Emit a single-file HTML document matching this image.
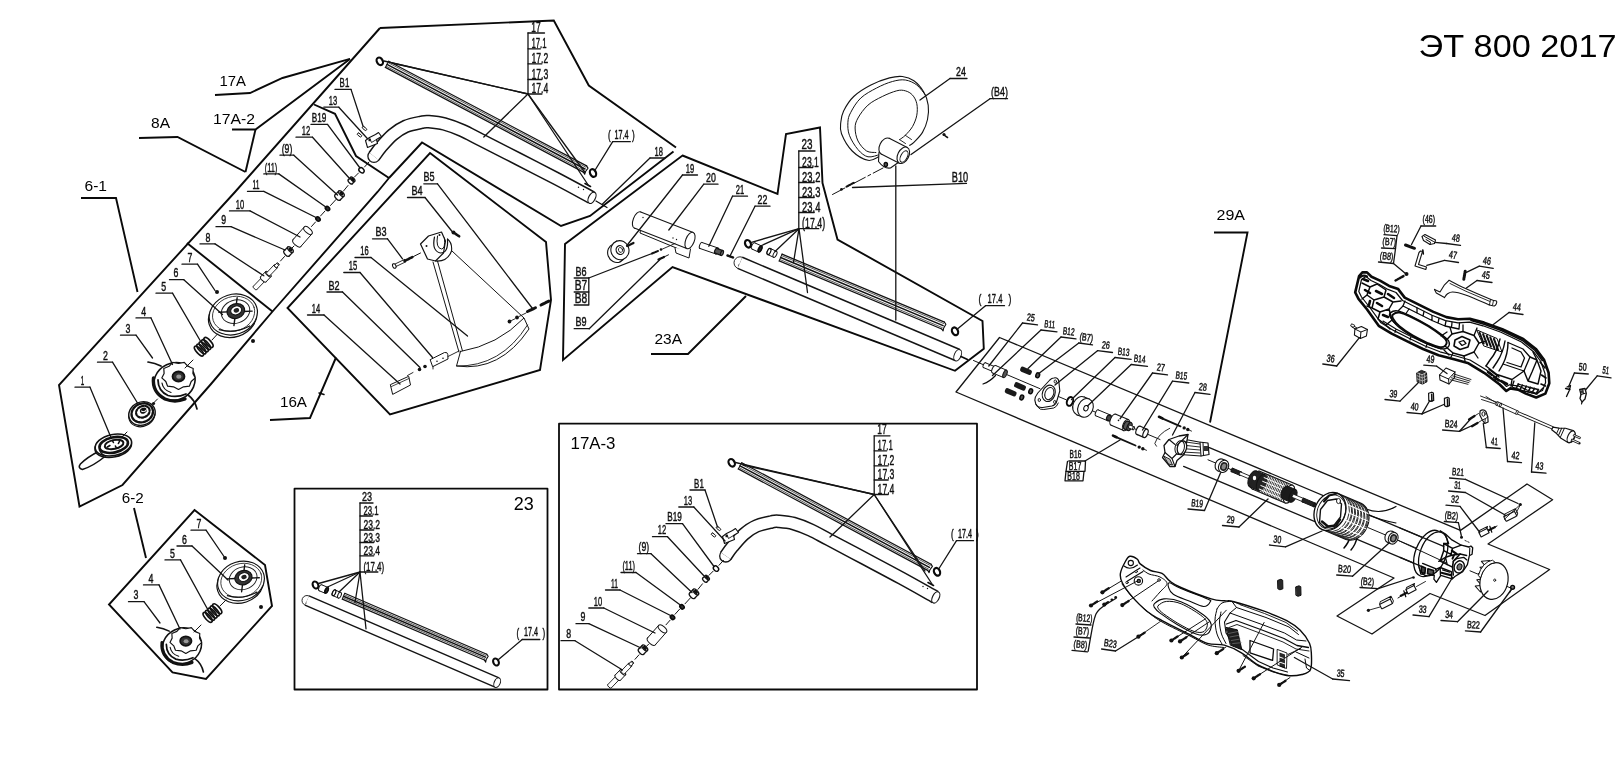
<!DOCTYPE html>
<html><head><meta charset="utf-8"><title>ET 800 2017</title>
<style>
html,body{margin:0;padding:0;background:#fff;}
body{width:1621px;height:767px;overflow:hidden;}
svg{display:block;font-family:"Liberation Sans",sans-serif;opacity:0.999;will-change:transform;filter:blur(0.45px);}
</style></head><body>
<svg width="1621" height="767" viewBox="0 0 1621 767">
<rect width="1621" height="767" fill="#fff"/>
<g stroke-linecap="round" stroke-linejoin="round">
<text x="1418.5" y="56.8" font-size="32.0" textLength="198.0" lengthAdjust="spacingAndGlyphs" fill="#000" font-weight="normal">ЭТ 800 2017</text>
<path d="M380.0 28.0 L235.0 192.0 L59.0 385.0 L79.5 506.5 L122.5 485.0 L211.0 384.0 L272.5 311.5 L377.5 192.0 L389.0 178.0" fill="none" stroke="#0a0a0a" stroke-width="1.90" stroke-linejoin="miter" stroke-linecap="butt"/>
<path d="M187.0 243.0 L272.5 311.5" fill="none" stroke="#0a0a0a" stroke-width="1.90" stroke-linejoin="miter" stroke-linecap="butt"/>
<path d="M314.0 104.5 L335.0 113.8 L356.0 156.0 L389.0 178.0" fill="none" stroke="#0a0a0a" stroke-width="1.90" stroke-linejoin="miter" stroke-linecap="butt"/>
<path d="M380.0 28.0 L553.8 20.5 L588.8 85.5 L676.0 147.5" fill="none" stroke="#0a0a0a" stroke-width="1.90" stroke-linejoin="miter" stroke-linecap="butt"/>
<path d="M673.5 151.5 L590.0 216.0 L561.0 226.0 L422.0 142.5 L389.0 178.0" fill="none" stroke="#0a0a0a" stroke-width="1.90" stroke-linejoin="miter" stroke-linecap="butt"/>
<path d="M430.0 153.0 L546.0 242.0 L551.0 300.0 L540.0 370.0 L390.0 414.5 L287.5 308.0 Z" fill="none" stroke="#0a0a0a" stroke-width="1.90" stroke-linejoin="miter" stroke-linecap="butt"/>
<path d="M682.5 155.5 L777.5 194.0 L786.0 134.0 L820.0 127.5 L822.5 183.0 L837.5 239.5 L982.5 321.0 L983.8 348.8 L955.0 370.8 L672.5 267.0 L563.0 360.0 L565.0 244.0 Z" fill="none" stroke="#0a0a0a" stroke-width="1.90" stroke-linejoin="miter" stroke-linecap="butt"/>
<path d="M215.0 95.0 L250.0 93.0 L282.5 78.0 L350.0 58.8" fill="none" stroke="#0a0a0a" stroke-width="1.90" stroke-linejoin="miter" stroke-linecap="butt"/>
<path d="M232.0 129.5 L255.5 129.5 L350.0 59.0" fill="none" stroke="#0a0a0a" stroke-width="1.90" stroke-linejoin="miter" stroke-linecap="butt"/>
<path d="M255.5 129.5 L245.5 172.0" fill="none" stroke="#0a0a0a" stroke-width="1.90" stroke-linejoin="miter" stroke-linecap="butt"/>
<path d="M139.0 138.0 L177.5 137.0 L245.5 172.0" fill="none" stroke="#0a0a0a" stroke-width="1.90" stroke-linejoin="miter" stroke-linecap="butt"/>
<path d="M81.0 198.0 L116.0 198.0 L137.5 292.0" fill="none" stroke="#0a0a0a" stroke-width="1.90" stroke-linejoin="miter" stroke-linecap="butt"/>
<path d="M134.0 508.0 L146.0 558.0" fill="none" stroke="#0a0a0a" stroke-width="1.90" stroke-linejoin="miter" stroke-linecap="butt"/>
<path d="M270.0 420.0 L310.0 418.0 L336.0 357.5" fill="none" stroke="#0a0a0a" stroke-width="1.90" stroke-linejoin="miter" stroke-linecap="butt"/>
<path d="M319.0 393.0 L324.0 394.5" fill="none" stroke="#0a0a0a" stroke-width="1.50" />
<path d="M651.0 354.0 L688.0 354.0 L746.0 296.0" fill="none" stroke="#0a0a0a" stroke-width="1.90" stroke-linejoin="miter" stroke-linecap="butt"/>
<path d="M1214.0 232.5 L1247.5 232.5 L1210.0 422.5" fill="none" stroke="#0a0a0a" stroke-width="1.90" stroke-linejoin="miter" stroke-linecap="butt"/>
<text x="219.5" y="86.0" font-size="15.4" textLength="26.5" lengthAdjust="spacingAndGlyphs" fill="#000" font-weight="normal">17A</text>
<text x="213.0" y="124.0" font-size="15.4" textLength="42.0" lengthAdjust="spacingAndGlyphs" fill="#000" font-weight="normal">17A-2</text>
<text x="151.0" y="128.0" font-size="15.4" textLength="19.0" lengthAdjust="spacingAndGlyphs" fill="#000" font-weight="normal">8A</text>
<text x="84.5" y="191.0" font-size="15.4" textLength="22.5" lengthAdjust="spacingAndGlyphs" fill="#000" font-weight="normal">6-1</text>
<text x="121.8" y="502.8" font-size="15.4" textLength="22.0" lengthAdjust="spacingAndGlyphs" fill="#000" font-weight="normal">6-2</text>
<text x="280.0" y="407.0" font-size="15.4" textLength="27.0" lengthAdjust="spacingAndGlyphs" fill="#000" font-weight="normal">16A</text>
<text x="654.5" y="344.0" font-size="15.4" textLength="27.5" lengthAdjust="spacingAndGlyphs" fill="#000" font-weight="normal">23A</text>
<text x="1216.5" y="220.0" font-size="15.4" textLength="28.5" lengthAdjust="spacingAndGlyphs" fill="#000" font-weight="normal">29A</text>
<text x="570.5" y="449.0" font-size="16.0" textLength="45.0" lengthAdjust="spacingAndGlyphs" fill="#000" font-weight="normal">17A-3</text>
<text x="513.8" y="509.5" font-size="17.5" textLength="20.0" lengthAdjust="spacingAndGlyphs" fill="#000" font-weight="normal">23</text>
<path d="M194.5 510.0 L265.0 565.0 L272.0 606.0 L206.0 679.0 L172.5 672.5 L109.0 604.5 Z" fill="none" stroke="#0a0a0a" stroke-width="1.90" stroke-linejoin="miter" stroke-linecap="butt"/>
<rect x="294.5" y="488.7" width="253" height="200.8" fill="none" stroke="#0a0a0a" stroke-width="1.8"/>
<rect x="559" y="423.7" width="418" height="265.8" fill="none" stroke="#0a0a0a" stroke-width="1.8"/>
<path d="M999.5 337.5 L956.0 392.0 L1394.0 578.0 L1337.0 616.0 L1372.0 634.0 L1430.0 593.5 L1485.0 615.5 L1549.6 569.5 L1488.0 544.0 L1552.6 499.7 L1527.0 484.0 L1460.5 530.4 Z" fill="none" stroke="#141414" stroke-width="1.30" />
<g transform="translate(233.3 314.5) scale(1.000) rotate(-18.0)">
<ellipse cx="-1.5" cy="2.2" rx="24.5" ry="20" fill="#fff" stroke="#111" stroke-width="1.2"/>
<ellipse cx="0" cy="0" rx="24.5" ry="20" fill="#fff" stroke="#111" stroke-width="1.2"/>
<ellipse cx="0.5" cy="-0.5" rx="21.5" ry="17.2" fill="none" stroke="#222" stroke-width="0.8"/>
<ellipse cx="3" cy="-2" rx="14.5" ry="11.5" fill="none" stroke="#222" stroke-width="1"/>
<line x1="10.5" y1="0.2" x2="19.0" y2="2.6" stroke="#111" stroke-width="1.4"/>
<line x1="0.3" y1="4.1" x2="-2.8" y2="10.7" stroke="#111" stroke-width="1.4"/>
<line x1="-4.5" y1="-4.2" x2="-13.0" y2="-6.6" stroke="#111" stroke-width="1.4"/>
<line x1="5.7" y1="-8.1" x2="8.8" y2="-14.7" stroke="#111" stroke-width="1.4"/>
<ellipse cx="3.5" cy="-2.5" rx="9" ry="7.3" fill="#333" stroke="#111" stroke-width="1.2"/>
<ellipse cx="4" cy="-3" rx="5.6" ry="4.4" fill="#fff" stroke="#111" stroke-width="1"/>
<ellipse cx="4.2" cy="-3" rx="2.8" ry="2.2" fill="#222"/>
<path d="M-18 10 Q-5 19 12 16" fill="none" stroke="#111" stroke-width="1.3"/>
</g>
<circle cx="217.0" cy="292.0" r="2.0" fill="#111"/>
<circle cx="253.0" cy="341.0" r="2.0" fill="#111"/>
<g transform="translate(203.8 346.7) scale(1.000) rotate(-42.0)">
<ellipse cx="-6.5" cy="0" rx="2.4" ry="6.2" fill="none" stroke="#111" stroke-width="1.7"/>
<ellipse cx="-3.3" cy="0" rx="2.4" ry="6.2" fill="none" stroke="#111" stroke-width="1.7"/>
<ellipse cx="-0.1" cy="0" rx="2.4" ry="6.2" fill="none" stroke="#111" stroke-width="1.7"/>
<ellipse cx="3.1" cy="0" rx="2.4" ry="6.2" fill="none" stroke="#111" stroke-width="1.7"/>
<ellipse cx="6.3" cy="0" rx="2.4" ry="6.2" fill="none" stroke="#111" stroke-width="1.7"/>
</g>
<g transform="translate(175.0 378.0) scale(1.000)">
<ellipse cx="-2" cy="3" rx="21" ry="18.5" transform="rotate(-25)" fill="#fff" stroke="#111" stroke-width="1.6"/>
<path d="M-21.5 0 Q-23 14 -10 21 Q0 25 10 21" fill="none" stroke="#111" stroke-width="3.4"/>
<path d="M-17 2 Q-17 13 -7 17.5 Q2 20 11 16" fill="none" stroke="#111" stroke-width="1.8"/>
<path d="M-13 5 Q-12 12 -4 14.5" fill="none" stroke="#111" stroke-width="1.2"/>
<path d="M18.2 -9.5 L17.9 -4.6 L20.2 -0.1 L16.2 3.5 L14.4 8.2 L8.5 8.8 L3.5 11.5 L-1.5 8.8 L-7.4 8.2 L-9.2 3.5 L-13.2 -0.1 L-10.9 -4.6 L-11.2 -9.5 L-5.9 -11.7 L-2.3 -15.7 L3.5 -14.5 L9.3 -15.7 L12.9 -11.7 Z" fill="#fff" stroke="#111" stroke-width="1.20" />
<ellipse cx="3.5" cy="-1.5" rx="6" ry="5" fill="#333" stroke="#111" stroke-width="1.8"/>
<ellipse cx="3.8" cy="-1.3" rx="2.6" ry="2.1" fill="#999"/>
<path d="M-14 -12 Q-20 -15 -27 -16" fill="none" stroke="#111" stroke-width="1.7"/>
<path d="M13 17 Q20 22 22 31" fill="none" stroke="#111" stroke-width="1.7"/>
</g>
<g transform="translate(142.0 413.5) rotate(-25)">
<ellipse cx="-0.8" cy="1.2" rx="13.5" ry="11.5" fill="#fff" stroke="#111" stroke-width="1.1"/>
<ellipse cx="0" cy="0" rx="13.5" ry="11.5" fill="#fff" stroke="#111" stroke-width="1.4"/>
<ellipse cx="0.5" cy="-0.5" rx="11" ry="9.2" fill="none" stroke="#111" stroke-width="2.4" stroke-dasharray="2.6 1.5"/>
<ellipse cx="1.5" cy="-1.2" rx="7" ry="5.6" fill="none" stroke="#111" stroke-width="2.2" stroke-dasharray="2.2 1.6"/>
<ellipse cx="2.5" cy="-2" rx="3.6" ry="2.9" fill="#111"/>
<path d="M0.5 -2.5 Q3 0.5 6 -1.5" fill="none" stroke="#fff" stroke-width="0.9"/>
</g>
<circle cx="153.5" cy="403.5" r="1.6" fill="#111"/>
<g transform="translate(113.4 445.0)">
<path d="M-14 6 Q-26 12 -33 19 Q-36 23 -31 24.5 Q-20 21 -8.5 11.5" fill="#fff" stroke="#111" stroke-width="1.5"/>
<ellipse cx="-0.5" cy="1.5" rx="18.5" ry="10.5" transform="rotate(-12)" fill="#fff" stroke="#111" stroke-width="1.6"/>
<ellipse cx="0" cy="0" rx="18.5" ry="10.5" transform="rotate(-12)" fill="#fff" stroke="#111" stroke-width="1.6"/>
<ellipse cx="0.3" cy="0" rx="14.5" ry="7.6" transform="rotate(-12)" fill="none" stroke="#111" stroke-width="2.6"/>
<ellipse cx="0.8" cy="-0.4" rx="9.5" ry="4.4" transform="rotate(-12)" fill="#fff" stroke="#111" stroke-width="2.0"/>
<path d="M-6 2 L-3.5 0.5 M-1 -4.5 L0 -2.5 M6 -3.5 L5 -1.5 M3 3 L2 1" stroke="#111" stroke-width="1.6" fill="none"/>
<path d="M-14 5 Q-12 9.5 -8 11" fill="none" stroke="#111" stroke-width="1.4"/>
</g>
<path d="M217.5 334.0 L212.0 340.0" fill="none" stroke="#141414" stroke-width="1.00" />
<path d="M193.0 360.0 L185.0 368.0" fill="none" stroke="#141414" stroke-width="1.00" />
<path d="M157.5 399.0 L153.5 403.0" fill="none" stroke="#141414" stroke-width="1.00" />
<path d="M127.0 432.0 L121.5 437.5" fill="none" stroke="#141414" stroke-width="1.00" />
<ellipse cx="255.0" cy="288.0" rx="1.0" ry="2.4" transform="rotate(-46.2 255.0 288.0)" fill="#fff" stroke="#141414" stroke-width="0.90"/>
<path d="M256.7 289.7 L266.4 279.6 L262.9 276.3 L253.3 286.3 Z" fill="#fff" stroke="none"/>
<path d="M256.7 289.7 L266.4 279.6" fill="none" stroke="#141414" stroke-width="0.90" />
<path d="M253.3 286.3 L262.9 276.3" fill="none" stroke="#141414" stroke-width="0.90" />
<ellipse cx="264.7" cy="277.9" rx="1.0" ry="2.4" transform="rotate(-46.2 264.7 277.9)" fill="#fff" stroke="#141414" stroke-width="0.90"/>
<ellipse cx="263.3" cy="279.4" rx="1.5" ry="3.7" transform="rotate(-46.2 263.3 279.4)" fill="#fff" stroke="#141414" stroke-width="1.00"/>
<path d="M266.0 281.9 L271.0 276.6 L265.7 271.5 L260.6 276.8 Z" fill="#fff" stroke="none"/>
<path d="M266.0 281.9 L271.0 276.6" fill="none" stroke="#141414" stroke-width="1.00" />
<path d="M260.6 276.8 L265.7 271.5" fill="none" stroke="#141414" stroke-width="1.00" />
<ellipse cx="268.3" cy="274.1" rx="1.5" ry="3.7" transform="rotate(-46.2 268.3 274.1)" fill="#fff" stroke="#141414" stroke-width="1.00"/>
<ellipse cx="268.3" cy="274.1" rx="0.9" ry="2.2" transform="rotate(-46.2 268.3 274.1)" fill="#fff" stroke="#141414" stroke-width="0.90"/>
<path d="M269.9 275.6 L277.3 267.9 L274.1 264.9 L266.8 272.6 Z" fill="#fff" stroke="none"/>
<path d="M269.9 275.6 L277.3 267.9" fill="none" stroke="#141414" stroke-width="0.90" />
<path d="M266.8 272.6 L274.1 264.9" fill="none" stroke="#141414" stroke-width="0.90" />
<ellipse cx="275.7" cy="266.4" rx="0.9" ry="2.2" transform="rotate(-46.2 275.7 266.4)" fill="#fff" stroke="#141414" stroke-width="0.90"/>
<ellipse cx="275.7" cy="266.4" rx="0.6" ry="1.5" transform="rotate(-46.2 275.7 266.4)" fill="#fff" stroke="#141414" stroke-width="0.90"/>
<path d="M276.8 267.4 L279.1 265.0 L276.9 263.0 L274.6 265.4 Z" fill="#fff" stroke="none"/>
<path d="M276.8 267.4 L279.1 265.0" fill="none" stroke="#141414" stroke-width="0.90" />
<path d="M274.6 265.4 L276.9 263.0" fill="none" stroke="#141414" stroke-width="0.90" />
<ellipse cx="278.0" cy="264.0" rx="0.6" ry="1.5" transform="rotate(-46.2 278.0 264.0)" fill="#fff" stroke="#141414" stroke-width="0.90"/>
<ellipse cx="286.6" cy="253.4" rx="1.8" ry="3.6" transform="rotate(-45.0 286.6 253.4)" fill="#fff" stroke="#141414" stroke-width="1.30"/>
<path d="M289.1 256.0 L293.0 252.1 L287.9 247.0 L284.0 250.9 Z" fill="#fff" stroke="none"/>
<path d="M289.1 256.0 L293.0 252.1" fill="none" stroke="#141414" stroke-width="1.30" />
<path d="M284.0 250.9 L287.9 247.0" fill="none" stroke="#141414" stroke-width="1.30" />
<ellipse cx="290.4" cy="249.6" rx="1.8" ry="3.6" transform="rotate(-45.0 290.4 249.6)" fill="#fff" stroke="#141414" stroke-width="1.30"/>
<ellipse cx="290.4" cy="249.6" rx="0.9" ry="1.8" transform="rotate(-45.0 290.4 249.6)" fill="#333" stroke="#0a0a0a" stroke-width="1.20"/>
<ellipse cx="297.0" cy="243.0" rx="2.6" ry="5.2" transform="rotate(-48.7 297.0 243.0)" fill="#fff" stroke="#141414" stroke-width="1.00"/>
<path d="M300.9 246.4 L311.9 233.9 L304.1 227.1 L293.1 239.6 Z" fill="#fff" stroke="none"/>
<path d="M300.9 246.4 L311.9 233.9" fill="none" stroke="#141414" stroke-width="1.00" />
<path d="M293.1 239.6 L304.1 227.1" fill="none" stroke="#141414" stroke-width="1.00" />
<ellipse cx="308.0" cy="230.5" rx="2.6" ry="5.2" transform="rotate(-48.7 308.0 230.5)" fill="#fff" stroke="#141414" stroke-width="1.00"/>
<ellipse cx="318.0" cy="219.0" rx="1.8" ry="2.4" transform="rotate(-45.0 318.0 219.0)" fill="#333" stroke="#0a0a0a" stroke-width="1.60"/>
<ellipse cx="327.5" cy="208.5" rx="1.8" ry="2.4" transform="rotate(-45.0 327.5 208.5)" fill="#333" stroke="#0a0a0a" stroke-width="1.60"/>
<ellipse cx="337.6" cy="197.4" rx="1.8" ry="3.6" transform="rotate(-45.0 337.6 197.4)" fill="#fff" stroke="#141414" stroke-width="1.30"/>
<path d="M340.1 200.0 L344.0 196.1 L338.9 191.0 L335.0 194.9 Z" fill="#fff" stroke="none"/>
<path d="M340.1 200.0 L344.0 196.1" fill="none" stroke="#141414" stroke-width="1.30" />
<path d="M335.0 194.9 L338.9 191.0" fill="none" stroke="#141414" stroke-width="1.30" />
<ellipse cx="341.4" cy="193.6" rx="1.8" ry="3.6" transform="rotate(-45.0 341.4 193.6)" fill="#fff" stroke="#141414" stroke-width="1.30"/>
<ellipse cx="341.4" cy="193.6" rx="0.9" ry="1.8" transform="rotate(-45.0 341.4 193.6)" fill="#333" stroke="#0a0a0a" stroke-width="1.20"/>
<ellipse cx="350.3" cy="181.7" rx="1.4" ry="2.8" transform="rotate(-45.0 350.3 181.7)" fill="#fff" stroke="#141414" stroke-width="1.30"/>
<path d="M352.2 183.7 L354.7 181.2 L350.8 177.3 L348.3 179.8 Z" fill="#fff" stroke="none"/>
<path d="M352.2 183.7 L354.7 181.2" fill="none" stroke="#141414" stroke-width="1.30" />
<path d="M348.3 179.8 L350.8 177.3" fill="none" stroke="#141414" stroke-width="1.30" />
<ellipse cx="352.7" cy="179.3" rx="1.4" ry="2.8" transform="rotate(-45.0 352.7 179.3)" fill="#fff" stroke="#141414" stroke-width="1.30"/>
<ellipse cx="352.7" cy="179.3" rx="0.7" ry="1.4" transform="rotate(-45.0 352.7 179.3)" fill="#333" stroke="#0a0a0a" stroke-width="1.20"/>
<ellipse cx="361.5" cy="170.3" rx="2.2" ry="3.0" transform="rotate(-45.0 361.5 170.3)" fill="none" stroke="#0a0a0a" stroke-width="1.40"/>
<path d="M280.5 261.0 L284.5 256.5" fill="none" stroke="#141414" stroke-width="1.00" />
<path d="M292.0 248.0 L294.0 246.0" fill="none" stroke="#141414" stroke-width="1.00" />
<path d="M311.5 226.5 L315.5 222.0" fill="none" stroke="#141414" stroke-width="1.00" />
<path d="M320.5 216.0 L325.0 211.0" fill="none" stroke="#141414" stroke-width="1.00" />
<path d="M330.5 205.5 L336.0 199.5" fill="none" stroke="#141414" stroke-width="1.00" />
<path d="M343.5 191.0 L348.0 185.5" fill="none" stroke="#141414" stroke-width="1.00" />
<path d="M354.5 177.0 L358.5 173.0" fill="none" stroke="#141414" stroke-width="1.00" />
<path d="M364.5 167.0 L369.0 162.0" fill="none" stroke="#141414" stroke-width="1.00" />
<text x="80.8" y="384.8" font-size="13.1" textLength="3.5" lengthAdjust="spacingAndGlyphs" fill="#111" stroke="#111" stroke-width="0.45">1</text>
<path d="M75.0 387.2 L90.0 387.2" fill="none" stroke="#141414" stroke-width="1.30" />
<path d="M90.0 387.2 L111.0 437.5" fill="none" stroke="#141414" stroke-width="1.30" />
<text x="103.1" y="359.8" font-size="13.1" textLength="4.9" lengthAdjust="spacingAndGlyphs" fill="#111" stroke="#111" stroke-width="0.45">2</text>
<path d="M97.5 362.2 L112.5 362.2" fill="none" stroke="#141414" stroke-width="1.30" />
<path d="M112.5 362.2 L137.5 403.0" fill="none" stroke="#141414" stroke-width="1.30" />
<text x="125.6" y="332.8" font-size="13.1" textLength="4.9" lengthAdjust="spacingAndGlyphs" fill="#111" stroke="#111" stroke-width="0.45">3</text>
<path d="M120.5 335.2 L136.0 335.2" fill="none" stroke="#141414" stroke-width="1.30" />
<path d="M136.0 335.2 L152.5 358.0" fill="none" stroke="#141414" stroke-width="1.30" />
<text x="141.3" y="315.5" font-size="13.1" textLength="4.9" lengthAdjust="spacingAndGlyphs" fill="#111" stroke="#111" stroke-width="0.45">4</text>
<path d="M136.0 317.9 L151.0 317.9" fill="none" stroke="#141414" stroke-width="1.30" />
<path d="M151.0 317.9 L172.5 364.5" fill="none" stroke="#141414" stroke-width="1.30" />
<text x="161.3" y="290.8" font-size="13.1" textLength="4.9" lengthAdjust="spacingAndGlyphs" fill="#111" stroke="#111" stroke-width="0.45">5</text>
<path d="M156.0 293.2 L172.5 293.2" fill="none" stroke="#141414" stroke-width="1.30" />
<path d="M172.5 293.2 L201.0 342.0" fill="none" stroke="#141414" stroke-width="1.30" />
<text x="173.6" y="277.3" font-size="13.1" textLength="4.9" lengthAdjust="spacingAndGlyphs" fill="#111" stroke="#111" stroke-width="0.45">6</text>
<path d="M169.5 279.7 L183.8 279.7" fill="none" stroke="#141414" stroke-width="1.30" />
<path d="M183.8 279.7 L222.5 314.5" fill="none" stroke="#141414" stroke-width="1.30" />
<text x="187.6" y="261.8" font-size="13.1" textLength="4.9" lengthAdjust="spacingAndGlyphs" fill="#111" stroke="#111" stroke-width="0.45">7</text>
<path d="M182.0 264.2 L197.5 264.2" fill="none" stroke="#141414" stroke-width="1.30" />
<path d="M197.5 264.2 L215.0 290.5" fill="none" stroke="#141414" stroke-width="1.30" />
<text x="205.6" y="241.5" font-size="13.1" textLength="4.9" lengthAdjust="spacingAndGlyphs" fill="#111" stroke="#111" stroke-width="0.45">8</text>
<path d="M200.0 243.9 L215.0 243.9" fill="none" stroke="#141414" stroke-width="1.30" />
<path d="M215.0 243.9 L263.8 275.8" fill="none" stroke="#141414" stroke-width="1.30" />
<text x="221.3" y="224.3" font-size="13.1" textLength="4.9" lengthAdjust="spacingAndGlyphs" fill="#111" stroke="#111" stroke-width="0.45">9</text>
<path d="M216.0 226.7 L231.0 226.7" fill="none" stroke="#141414" stroke-width="1.30" />
<path d="M231.0 226.7 L285.0 250.0" fill="none" stroke="#141414" stroke-width="1.30" />
<text x="235.8" y="208.5" font-size="13.1" textLength="8.4" lengthAdjust="spacingAndGlyphs" fill="#111" stroke="#111" stroke-width="0.45">10</text>
<path d="M229.5 210.9 L250.0 210.9" fill="none" stroke="#141414" stroke-width="1.30" />
<path d="M250.0 210.9 L300.0 237.0" fill="none" stroke="#141414" stroke-width="1.30" />
<text x="252.5" y="189.0" font-size="13.1" textLength="6.9" lengthAdjust="spacingAndGlyphs" fill="#111" stroke="#111" stroke-width="0.45">11</text>
<path d="M247.5 191.4 L263.8 191.4" fill="none" stroke="#141414" stroke-width="1.30" />
<path d="M263.8 191.4 L317.0 218.0" fill="none" stroke="#141414" stroke-width="1.30" />
<text x="264.7" y="171.5" font-size="13.1" textLength="12.6" lengthAdjust="spacingAndGlyphs" fill="#111" stroke="#111" stroke-width="0.45">(11)</text>
<path d="M263.8 173.9 L278.8 173.9" fill="none" stroke="#141414" stroke-width="1.30" />
<path d="M278.8 173.9 L326.5 207.5" fill="none" stroke="#141414" stroke-width="1.30" />
<text x="281.7" y="152.8" font-size="13.1" textLength="10.6" lengthAdjust="spacingAndGlyphs" fill="#111" stroke="#111" stroke-width="0.45">(9)</text>
<path d="M280.0 155.2 L293.8 155.2" fill="none" stroke="#141414" stroke-width="1.30" />
<path d="M293.8 155.2 L337.5 195.0" fill="none" stroke="#141414" stroke-width="1.30" />
<text x="301.8" y="134.8" font-size="13.1" textLength="8.4" lengthAdjust="spacingAndGlyphs" fill="#111" stroke="#111" stroke-width="0.45">12</text>
<path d="M296.0 137.2 L312.5 137.2" fill="none" stroke="#141414" stroke-width="1.30" />
<path d="M312.5 137.2 L350.0 179.0" fill="none" stroke="#141414" stroke-width="1.30" />
<text x="311.7" y="122.0" font-size="13.1" textLength="14.6" lengthAdjust="spacingAndGlyphs" fill="#111" stroke="#111" stroke-width="0.45">B19</text>
<path d="M311.0 124.4 L327.5 124.4" fill="none" stroke="#141414" stroke-width="1.30" />
<path d="M327.5 124.4 L360.0 168.0" fill="none" stroke="#141414" stroke-width="1.30" />
<text x="328.8" y="104.8" font-size="13.1" textLength="8.4" lengthAdjust="spacingAndGlyphs" fill="#111" stroke="#111" stroke-width="0.45">13</text>
<path d="M323.8 107.2 L338.8 107.2" fill="none" stroke="#141414" stroke-width="1.30" />
<path d="M338.8 107.2 L371.0 142.5" fill="none" stroke="#141414" stroke-width="1.30" />
<text x="339.6" y="87.0" font-size="13.1" textLength="9.7" lengthAdjust="spacingAndGlyphs" fill="#111" stroke="#111" stroke-width="0.45">B1</text>
<path d="M335.0 89.4 L351.0 89.4" fill="none" stroke="#141414" stroke-width="1.30" />
<path d="M351.0 89.4 L363.8 128.5" fill="none" stroke="#141414" stroke-width="1.30" />
<path d="M388.6 61.2 L586.6 165.9" fill="none" stroke="#111" stroke-width="1.25" />
<path d="M387.9 62.5 L585.9 167.2" fill="none" stroke="#333" stroke-width="0.80" />
<path d="M387.0 64.3 L585.0 169.0" fill="none" stroke="#111" stroke-width="1.50" />
<path d="M386.1 66.1 L584.1 170.8" fill="none" stroke="#333" stroke-width="0.80" />
<path d="M385.4 67.4 L583.4 172.1" fill="none" stroke="#111" stroke-width="1.25" />
<path d="M388.6 61.2 L385.4 67.4" fill="none" stroke="#141414" stroke-width="1.00" />
<path d="M586.6 165.9 L588.0 168.1 L585.4 171.7 L584.7 174.3 L583.4 172.1" fill="none" stroke="#0a0a0a" stroke-width="1.10" />
<ellipse cx="379.8" cy="61.3" rx="2.9" ry="4.0" transform="rotate(-30.0 379.8 61.3)" fill="none" stroke="#0a0a0a" stroke-width="2.20"/>
<circle cx="374" cy="156.3" r="6.1" fill="#fff" stroke="#141414" stroke-width="1.3"/>
<path d="M374.0 156.3 C375.2 154.8 377.9 150.6 381.0 147.0 C384.1 143.4 388.7 138.0 392.8 134.6 C396.9 131.2 400.9 128.5 405.7 126.4 C410.5 124.4 417.7 123.1 421.5 122.3 C425.3 121.5 424.9 121.4 428.7 121.7 C432.5 122.0 438.8 122.5 444.3 123.9 C449.9 125.4 455.9 127.7 462.0 130.4 C468.1 133.1 471.6 135.2 480.8 139.9 C490.0 144.6 504.7 152.0 517.3 158.5 C529.9 165.0 544.1 172.2 556.5 178.7 C568.9 185.2 585.7 194.4 591.5 197.5" fill="none" stroke="#141414" stroke-width="13.80" stroke-linecap="butt"/>
<path d="M374.0 156.3 C375.2 154.8 377.9 150.6 381.0 147.0 C384.1 143.4 388.7 138.0 392.8 134.6 C396.9 131.2 400.9 128.5 405.7 126.4 C410.5 124.4 417.7 123.1 421.5 122.3 C425.3 121.5 424.9 121.4 428.7 121.7 C432.5 122.0 438.8 122.5 444.3 123.9 C449.9 125.4 455.9 127.7 462.0 130.4 C468.1 133.1 471.6 135.2 480.8 139.9 C490.0 144.6 504.7 152.0 517.3 158.5 C529.9 165.0 544.1 172.2 556.5 178.7 C568.9 185.2 585.7 194.4 591.5 197.5" fill="none" stroke="#fff" stroke-width="10.80" stroke-linecap="butt"/>
<ellipse cx="592.0" cy="197.8" rx="3.3" ry="6.1" transform="rotate(27.0 592.0 197.8)" fill="#fff" stroke="#141414" stroke-width="1.20"/>
<circle cx="578.5" cy="187.3" r="0.7" fill="#111"/>
<circle cx="583.5" cy="189.5" r="0.7" fill="#111"/>
<path d="M596.0 201.0 L607.0 207.5" fill="none" stroke="#0a0a0a" stroke-width="1.20" />
<g transform="translate(372.5 141.5)">
<path d="M-5 6 L-7 -1 L-3 -4 L3 -7 L6 -9 L9 -5 L4 -2 L5 2 Z" fill="#fff" stroke="#111" stroke-width="1.1"/>
<path d="M-3 -4 L-1 1 L4 -2" fill="none" stroke="#111" stroke-width="0.9"/>
<rect x="-4" y="-2.5" width="2.2" height="2.2" fill="#111"/>
</g>
<rect x="362.0" y="127.4" width="5" height="2.2" rx="1" transform="rotate(38 364.5 128.5)" fill="#fff" stroke="#111" stroke-width="0.9"/>
<rect x="357.0" y="133.9" width="5" height="2.2" rx="1" transform="rotate(38 359.5 135.0)" fill="#fff" stroke="#111" stroke-width="0.9"/>
<ellipse cx="593.0" cy="173.0" rx="2.9" ry="4.0" transform="rotate(-25.0 593.0 173.0)" fill="none" stroke="#0a0a0a" stroke-width="2.20"/>
<path d="M585.0 183.5 L590.5 186.5" fill="none" stroke="#0a0a0a" stroke-width="1.60" />
<path d="M528.0 94.0 L384.0 61.0" fill="none" stroke="#141414" stroke-width="1.30" />
<path d="M528.0 94.0 L392.0 63.0" fill="none" stroke="#141414" stroke-width="1.30" />
<path d="M528.0 94.0 L483.8 137.0" fill="none" stroke="#141414" stroke-width="1.30" />
<path d="M528.0 94.0 L585.0 172.5" fill="none" stroke="#141414" stroke-width="1.30" />
<path d="M528.0 94.0 L588.5 185.5" fill="none" stroke="#141414" stroke-width="1.30" />
<text x="531.3" y="31.5" font-size="14.7" textLength="9.4" lengthAdjust="spacingAndGlyphs" fill="#111" stroke="#111" stroke-width="0.45">17</text>
<path d="M528.0 33.0 L544.5 33.0" fill="none" stroke="#141414" stroke-width="1.30" />
<text x="531.4" y="47.8" font-size="14.2" textLength="15.2" lengthAdjust="spacingAndGlyphs" fill="#111" stroke="#111" stroke-width="0.45">17.1</text>
<path d="M528.0 33.0 L528.0 48.8 L540.4 48.8" fill="none" stroke="#141414" stroke-width="1.30" />
<text x="531.4" y="62.8" font-size="14.2" textLength="16.8" lengthAdjust="spacingAndGlyphs" fill="#111" stroke="#111" stroke-width="0.45">17.2</text>
<path d="M528.0 48.8 L528.0 63.8 L541.9 63.8" fill="none" stroke="#141414" stroke-width="1.30" />
<text x="531.4" y="78.5" font-size="14.2" textLength="16.8" lengthAdjust="spacingAndGlyphs" fill="#111" stroke="#111" stroke-width="0.45">17.3</text>
<path d="M528.0 63.8 L528.0 79.5 L541.9 79.5" fill="none" stroke="#141414" stroke-width="1.30" />
<text x="531.4" y="93.0" font-size="14.2" textLength="16.8" lengthAdjust="spacingAndGlyphs" fill="#111" stroke="#111" stroke-width="0.45">17.4</text>
<path d="M528.0 79.5 L528.0 94.0 L541.9 94.0" fill="none" stroke="#141414" stroke-width="1.30" />
<text x="614.5" y="138.5" font-size="11.9" textLength="14.0" lengthAdjust="spacingAndGlyphs" fill="#111" stroke="#111" stroke-width="0.45">17.4</text>
<text x="608.1" y="138.7" font-size="12.5" textLength="2.7" lengthAdjust="spacingAndGlyphs" fill="#111" stroke="#111" stroke-width="0.45">(</text>
<text x="632.1" y="138.7" font-size="12.5" textLength="2.7" lengthAdjust="spacingAndGlyphs" fill="#111" stroke="#111" stroke-width="0.45">)</text>
<path d="M612.7 141.7 L630.3 141.7" fill="none" stroke="#141414" stroke-width="1.30" />
<path d="M612.7 141.7 L594.5 171.0" fill="none" stroke="#141414" stroke-width="1.30" />
<text x="654.6" y="155.6" font-size="13.1" textLength="8.4" lengthAdjust="spacingAndGlyphs" fill="#111" stroke="#111" stroke-width="0.45">18</text>
<path d="M650.0 158.0 L665.0 158.0" fill="none" stroke="#141414" stroke-width="1.30" />
<path d="M650.0 158.0 L602.5 204.0" fill="none" stroke="#141414" stroke-width="1.30" />
<path d="M433 262 L459 352 M437.5 261 L462.5 351" fill="none" stroke="#141414" stroke-width="1.00" />
<path d="M460.5 351.5 L456.5 366 Q500 372 529 329 L524 318 Q498 345 460.5 351.5 Z" fill="#fff" stroke="#141414" stroke-width="1.00" />
<path d="M456.5 366 Q501 367 527.5 325" fill="none" stroke="#141414" stroke-width="0.90" />
<path d="M452.0 251.0 L524.0 318.0" fill="none" stroke="#141414" stroke-width="1.00" />
<g transform="translate(437.5 249)">
<path d="M-17 -5 L-9 -13 L4 -17 L8 -8 L6 4 L-2 12 L-10 10 Z" fill="#fff" stroke="#111" stroke-width="1.2"/>
<path d="M-3 -12 Q-6 2 3 4 Q11 4 10 -10" fill="none" stroke="#111" stroke-width="1.2"/>
<path d="M0 -13 Q-2 -1 4 0 Q8 0 7 -11" fill="none" stroke="#111" stroke-width="1.0"/>
<path d="M-2 12 Q10 13 14 2 Q15 -6 10 -10" fill="none" stroke="#111" stroke-width="1.1"/>
<circle cx="-11" cy="-3" r="1" fill="#111"/><circle cx="2" cy="-14" r="1" fill="#111"/>
</g>
<ellipse cx="395.0" cy="265.5" rx="0.5" ry="1.3" transform="rotate(-25.6 395.0 265.5)" fill="#fff" stroke="#141414" stroke-width="0.90"/>
<path d="M395.6 266.7 L405.6 261.9 L404.4 259.5 L394.4 264.3 Z" fill="#fff" stroke="none"/>
<path d="M395.6 266.7 L405.6 261.9" fill="none" stroke="#141414" stroke-width="0.90" />
<path d="M394.4 264.3 L404.4 259.5" fill="none" stroke="#141414" stroke-width="0.90" />
<ellipse cx="405.0" cy="260.7" rx="0.5" ry="1.3" transform="rotate(-25.6 405.0 260.7)" fill="#fff" stroke="#141414" stroke-width="0.90"/>
<path d="M404.5 261.0 L412.5 257.0" fill="none" stroke="#111" stroke-width="2.60" stroke-dasharray="1.2 0.7"/>
<ellipse cx="394.3" cy="266.0" rx="1.6" ry="2.4" transform="rotate(-25.0 394.3 266.0)" fill="#fff" stroke="#0a0a0a" stroke-width="1.00"/>
<path d="M413.5 256.5 L420.5 253.0" fill="none" stroke="#141414" stroke-width="1.00" />
<circle cx="453.5" cy="232.5" r="2.0" fill="#111"/>
<path d="M455.0 233.5 L459.5 236.5" fill="none" stroke="#111" stroke-width="2.60" stroke-dasharray="1.2 0.7"/>
<circle cx="509.5" cy="321.5" r="1.9" fill="#111"/>
<circle cx="517.0" cy="317.5" r="1.9" fill="#111"/>
<path d="M527.5 311.5 L536.0 307.5" fill="none" stroke="#111" stroke-width="3.00" stroke-dasharray="1.2 0.7"/>
<path d="M541.0 305.0 L549.0 301.0" fill="none" stroke="#111" stroke-width="3.00" stroke-dasharray="1.2 0.7"/>
<path d="M519.0 316.5 L526.0 313.0" fill="none" stroke="#141414" stroke-width="0.90" />
<path d="M511.5 320.5 L515.0 318.8" fill="none" stroke="#141414" stroke-width="0.90" />
<path d="M430.5 359.5 L444.5 352.5 Q447.5 351.8 447.8 354.5 L448 359 L433 366.5 Z" fill="#fff" stroke="#141414" stroke-width="1.00" />
<circle cx="437.0" cy="361.2" r="0.8" fill="#111"/>
<circle cx="443.0" cy="358.2" r="0.8" fill="#111"/>
<path d="M433.0 366.5 L433.0 369.0" fill="none" stroke="#141414" stroke-width="0.90" />
<circle cx="419.5" cy="369.5" r="1.8" fill="#111"/>
<circle cx="425.0" cy="366.5" r="1.8" fill="#111"/>
<path d="M448.0 356.5 L459.0 351.0" fill="none" stroke="#141414" stroke-width="0.90" />
<path d="M413.0 372.5 L407.5 375.5" fill="none" stroke="#141414" stroke-width="0.90" />
<path d="M390.7 384.5 L408.7 376.3 L410.5 385 L393 394.2 Z" fill="#fff" stroke="#141414" stroke-width="1.00" />
<path d="M391.5 386.5 L409 378.5" fill="none" stroke="#141414" stroke-width="0.80" />
<text x="423.4" y="181.4" font-size="13.1" textLength="11.1" lengthAdjust="spacingAndGlyphs" fill="#111" stroke="#111" stroke-width="0.45">B5</text>
<path d="M423.8 183.8 L437.5 183.8" fill="none" stroke="#141414" stroke-width="1.30" />
<path d="M437.5 183.8 L532.5 308.5" fill="none" stroke="#141414" stroke-width="1.30" />
<text x="411.4" y="195.1" font-size="13.1" textLength="11.1" lengthAdjust="spacingAndGlyphs" fill="#111" stroke="#111" stroke-width="0.45">B4</text>
<path d="M407.5 197.5 L425.0 197.5" fill="none" stroke="#141414" stroke-width="1.30" />
<path d="M425.0 197.5 L452.5 232.0" fill="none" stroke="#141414" stroke-width="1.30" />
<text x="375.4" y="236.4" font-size="13.1" textLength="11.1" lengthAdjust="spacingAndGlyphs" fill="#111" stroke="#111" stroke-width="0.45">B3</text>
<path d="M372.5 238.8 L387.5 238.8" fill="none" stroke="#141414" stroke-width="1.30" />
<path d="M387.5 238.8 L402.5 258.8" fill="none" stroke="#141414" stroke-width="1.30" />
<text x="360.3" y="255.1" font-size="13.1" textLength="8.4" lengthAdjust="spacingAndGlyphs" fill="#111" stroke="#111" stroke-width="0.45">16</text>
<path d="M355.0 257.5 L371.0 257.5" fill="none" stroke="#141414" stroke-width="1.30" />
<path d="M371.0 257.5 L467.5 336.0" fill="none" stroke="#141414" stroke-width="1.30" />
<text x="348.8" y="270.1" font-size="13.1" textLength="8.4" lengthAdjust="spacingAndGlyphs" fill="#111" stroke="#111" stroke-width="0.45">15</text>
<path d="M343.8 272.5 L360.0 272.5" fill="none" stroke="#141414" stroke-width="1.30" />
<path d="M360.0 272.5 L432.5 357.5" fill="none" stroke="#141414" stroke-width="1.30" />
<text x="328.4" y="289.6" font-size="13.1" textLength="11.1" lengthAdjust="spacingAndGlyphs" fill="#111" stroke="#111" stroke-width="0.45">B2</text>
<path d="M327.0 292.0 L342.5 292.0" fill="none" stroke="#141414" stroke-width="1.30" />
<path d="M342.5 292.0 L420.0 367.5" fill="none" stroke="#141414" stroke-width="1.30" />
<text x="311.8" y="312.6" font-size="13.1" textLength="8.4" lengthAdjust="spacingAndGlyphs" fill="#111" stroke="#111" stroke-width="0.45">14</text>
<path d="M307.5 315.0 L324.0 315.0" fill="none" stroke="#141414" stroke-width="1.30" />
<path d="M324.0 315.0 L400.0 384.0" fill="none" stroke="#141414" stroke-width="1.30" />
<g transform="translate(241.0 581.0) scale(0.970) rotate(-18.0)">
<ellipse cx="-1.5" cy="2.2" rx="24.5" ry="20" fill="#fff" stroke="#111" stroke-width="1.2"/>
<ellipse cx="0" cy="0" rx="24.5" ry="20" fill="#fff" stroke="#111" stroke-width="1.2"/>
<ellipse cx="0.5" cy="-0.5" rx="21.5" ry="17.2" fill="none" stroke="#222" stroke-width="0.8"/>
<ellipse cx="3" cy="-2" rx="14.5" ry="11.5" fill="none" stroke="#222" stroke-width="1"/>
<line x1="10.5" y1="0.2" x2="19.0" y2="2.6" stroke="#111" stroke-width="1.4"/>
<line x1="0.3" y1="4.1" x2="-2.8" y2="10.7" stroke="#111" stroke-width="1.4"/>
<line x1="-4.5" y1="-4.2" x2="-13.0" y2="-6.6" stroke="#111" stroke-width="1.4"/>
<line x1="5.7" y1="-8.1" x2="8.8" y2="-14.7" stroke="#111" stroke-width="1.4"/>
<ellipse cx="3.5" cy="-2.5" rx="9" ry="7.3" fill="#333" stroke="#111" stroke-width="1.2"/>
<ellipse cx="4" cy="-3" rx="5.6" ry="4.4" fill="#fff" stroke="#111" stroke-width="1"/>
<ellipse cx="4.2" cy="-3" rx="2.8" ry="2.2" fill="#222"/>
<path d="M-18 10 Q-5 19 12 16" fill="none" stroke="#111" stroke-width="1.3"/>
</g>
<circle cx="225.0" cy="558.0" r="2.0" fill="#111"/>
<circle cx="261.0" cy="607.0" r="2.0" fill="#111"/>
<g transform="translate(212.5 613.0) scale(1.000) rotate(-42.0)">
<ellipse cx="-6.5" cy="0" rx="2.4" ry="6.2" fill="none" stroke="#111" stroke-width="1.7"/>
<ellipse cx="-3.3" cy="0" rx="2.4" ry="6.2" fill="none" stroke="#111" stroke-width="1.7"/>
<ellipse cx="-0.1" cy="0" rx="2.4" ry="6.2" fill="none" stroke="#111" stroke-width="1.7"/>
<ellipse cx="3.1" cy="0" rx="2.4" ry="6.2" fill="none" stroke="#111" stroke-width="1.7"/>
<ellipse cx="6.3" cy="0" rx="2.4" ry="6.2" fill="none" stroke="#111" stroke-width="1.7"/>
</g>
<g transform="translate(182.5 642.5) scale(0.950)">
<ellipse cx="-2" cy="3" rx="21" ry="18.5" transform="rotate(-25)" fill="#fff" stroke="#111" stroke-width="1.6"/>
<path d="M-21.5 0 Q-23 14 -10 21 Q0 25 10 21" fill="none" stroke="#111" stroke-width="3.4"/>
<path d="M-17 2 Q-17 13 -7 17.5 Q2 20 11 16" fill="none" stroke="#111" stroke-width="1.8"/>
<path d="M-13 5 Q-12 12 -4 14.5" fill="none" stroke="#111" stroke-width="1.2"/>
<path d="M18.2 -9.5 L17.9 -4.6 L20.2 -0.1 L16.2 3.5 L14.4 8.2 L8.5 8.8 L3.5 11.5 L-1.5 8.8 L-7.4 8.2 L-9.2 3.5 L-13.2 -0.1 L-10.9 -4.6 L-11.2 -9.5 L-5.9 -11.7 L-2.3 -15.7 L3.5 -14.5 L9.3 -15.7 L12.9 -11.7 Z" fill="#fff" stroke="#111" stroke-width="1.20" />
<ellipse cx="3.5" cy="-1.5" rx="6" ry="5" fill="#333" stroke="#111" stroke-width="1.8"/>
<ellipse cx="3.8" cy="-1.3" rx="2.6" ry="2.1" fill="#999"/>
<path d="M-14 -12 Q-20 -15 -27 -16" fill="none" stroke="#111" stroke-width="1.7"/>
<path d="M13 17 Q20 22 22 31" fill="none" stroke="#111" stroke-width="1.7"/>
</g>
<path d="M226.0 600.0 L220.0 606.0" fill="none" stroke="#141414" stroke-width="1.00" />
<path d="M201.0 625.0 L194.0 632.0" fill="none" stroke="#141414" stroke-width="1.00" />
<text x="196.6" y="527.8" font-size="13.1" textLength="4.9" lengthAdjust="spacingAndGlyphs" fill="#111" stroke="#111" stroke-width="0.45">7</text>
<path d="M191.0 530.2 L206.0 530.2" fill="none" stroke="#141414" stroke-width="1.30" />
<path d="M206.0 530.2 L224.0 556.5" fill="none" stroke="#141414" stroke-width="1.30" />
<text x="182.1" y="543.6" font-size="13.1" textLength="4.9" lengthAdjust="spacingAndGlyphs" fill="#111" stroke="#111" stroke-width="0.45">6</text>
<path d="M177.0 546.0 L192.0 546.0" fill="none" stroke="#141414" stroke-width="1.30" />
<path d="M192.0 546.0 L228.0 580.0" fill="none" stroke="#141414" stroke-width="1.30" />
<text x="170.1" y="557.5" font-size="13.1" textLength="4.9" lengthAdjust="spacingAndGlyphs" fill="#111" stroke="#111" stroke-width="0.45">5</text>
<path d="M165.0 559.9 L180.5 559.9" fill="none" stroke="#141414" stroke-width="1.30" />
<path d="M180.5 559.9 L208.0 610.0" fill="none" stroke="#141414" stroke-width="1.30" />
<text x="148.6" y="582.5" font-size="13.1" textLength="4.9" lengthAdjust="spacingAndGlyphs" fill="#111" stroke="#111" stroke-width="0.45">4</text>
<path d="M143.5 584.9 L159.0 584.9" fill="none" stroke="#141414" stroke-width="1.30" />
<path d="M159.0 584.9 L180.0 629.0" fill="none" stroke="#141414" stroke-width="1.30" />
<text x="133.6" y="599.3" font-size="13.1" textLength="4.9" lengthAdjust="spacingAndGlyphs" fill="#111" stroke="#111" stroke-width="0.45">3</text>
<path d="M128.5 601.7 L144.0 601.7" fill="none" stroke="#141414" stroke-width="1.30" />
<path d="M144.0 601.7 L160.0 623.0" fill="none" stroke="#141414" stroke-width="1.30" />
<g transform="translate(619.0 250.5) rotate(-20)">
<ellipse cx="-3" cy="1.5" rx="9" ry="9.6" fill="#fff" stroke="#111" stroke-width="1.1"/>
<rect x="-3" y="-9.6" width="4" height="19.2" fill="#fff" stroke="none"/>
<line x1="-3" y1="-8.1" x2="1" y2="-9.6" stroke="#111" stroke-width="1.1"/><line x1="-3" y1="11.1" x2="1" y2="9.6" stroke="#111" stroke-width="1.1"/>
<ellipse cx="1" cy="0" rx="9" ry="9.6" fill="#fff" stroke="#111" stroke-width="1.1"/>
<ellipse cx="1.2" cy="0" rx="4" ry="4.5" fill="#fff" stroke="#111" stroke-width="1.1"/>
<ellipse cx="1.6" cy="0" rx="2" ry="2.5" fill="none" stroke="#111" stroke-width="0.8"/>
</g>
<path d="M627.5 246.0 L633.5 243.0" fill="none" stroke="#111" stroke-width="2.20" stroke-dasharray="1.2 0.7"/>
<path d="M641 227.5 L640 233 L686 252 L687 250.5" fill="none" stroke="#141414" stroke-width="1.00" />
<path d="M675 248 L676 253 L689 258 L690.5 249" fill="#fff" stroke="#141414" stroke-width="1.00" />
<ellipse cx="637.5" cy="220.0" rx="4.3" ry="8.7" transform="rotate(21.3 637.5 220.0)" fill="#fff" stroke="#141414" stroke-width="1.05"/>
<path d="M634.3 228.1 L686.8 248.6 L693.2 232.4 L640.7 211.9 Z" fill="#fff" stroke="none"/>
<path d="M634.3 228.1 L686.8 248.6" fill="none" stroke="#141414" stroke-width="1.05" />
<path d="M640.7 211.9 L693.2 232.4" fill="none" stroke="#141414" stroke-width="1.05" />
<ellipse cx="690.0" cy="240.5" rx="4.3" ry="8.7" transform="rotate(21.3 690.0 240.5)" fill="#fff" stroke="#141414" stroke-width="1.05"/>
<circle cx="643.0" cy="217.5" r="0.7" fill="#111"/>
<circle cx="673.0" cy="238.0" r="0.7" fill="#111"/>
<circle cx="676.5" cy="239.5" r="0.7" fill="#111"/>
<ellipse cx="701.0" cy="245.5" rx="1.4" ry="3.2" transform="rotate(19.0 701.0 245.5)" fill="#fff" stroke="#141414" stroke-width="1.00"/>
<path d="M700.0 248.5 L716.0 254.0 L718.0 248.0 L702.0 242.5 Z" fill="#fff" stroke="none"/>
<path d="M700.0 248.5 L716.0 254.0" fill="none" stroke="#141414" stroke-width="1.00" />
<path d="M702.0 242.5 L718.0 248.0" fill="none" stroke="#141414" stroke-width="1.00" />
<ellipse cx="717.0" cy="251.0" rx="1.4" ry="3.2" transform="rotate(19.0 717.0 251.0)" fill="#fff" stroke="#141414" stroke-width="1.00"/>
<ellipse cx="716.0" cy="250.8" rx="1.2" ry="2.6" transform="rotate(20.1 716.0 250.8)" fill="#555" stroke="#141414" stroke-width="1.30"/>
<path d="M715.1 253.2 L721.1 255.4 L722.9 250.6 L716.9 248.4 Z" fill="#555" stroke="none"/>
<path d="M715.1 253.2 L721.1 255.4" fill="none" stroke="#141414" stroke-width="1.30" />
<path d="M716.9 248.4 L722.9 250.6" fill="none" stroke="#141414" stroke-width="1.30" />
<ellipse cx="722.0" cy="253.0" rx="1.2" ry="2.6" transform="rotate(20.1 722.0 253.0)" fill="#777" stroke="#141414" stroke-width="1.30"/>
<path d="M727.5 255.5 L733.0 257.5" fill="none" stroke="#111" stroke-width="2.40" stroke-dasharray="1.2 0.7"/>
<path d="M652.0 253.5 L658.0 251.0" fill="none" stroke="#111" stroke-width="2.00" stroke-dasharray="1.2 0.7"/>
<circle cx="661.0" cy="249.5" r="1.3" fill="#111"/>
<path d="M658.5 259.5 L664.0 257.0" fill="none" stroke="#111" stroke-width="2.20" stroke-dasharray="1.2 0.7"/>
<path d="M664.0 257.0 L668.5 254.8" fill="none" stroke="#141414" stroke-width="1.00" />
<path d="M662.5 249.0 L675.0 243.5" fill="none" stroke="#141414" stroke-width="0.90" />
<circle cx="740" cy="262.8" r="6" fill="#fff" stroke="#141414" stroke-width="0.9"/>
<path d="M740 262.8 L957.5 355" fill="none" stroke="#141414" stroke-width="13.50" stroke-linecap="butt"/>
<path d="M740 262.8 L957.5 355" fill="none" stroke="#fff" stroke-width="10.50" stroke-linecap="butt"/>
<ellipse cx="957.7" cy="355.2" rx="3.4" ry="6.0" transform="rotate(23.0 957.7 355.2)" fill="#fff" stroke="#141414" stroke-width="1.00"/>
<circle cx="738.5" cy="265.0" r="0.6" fill="#111"/>
<path d="M961.0 356.5 L967.5 359.5" fill="none" stroke="#0a0a0a" stroke-width="1.60" />
<path d="M782.0 254.1 L944.5 322.2" fill="none" stroke="#111" stroke-width="1.25" />
<path d="M781.4 255.5 L943.9 323.6" fill="none" stroke="#333" stroke-width="0.80" />
<path d="M780.6 257.5 L943.1 325.6" fill="none" stroke="#111" stroke-width="1.50" />
<path d="M779.8 259.5 L942.3 327.6" fill="none" stroke="#333" stroke-width="0.80" />
<path d="M779.2 260.9 L941.7 329.0" fill="none" stroke="#111" stroke-width="1.25" />
<path d="M782.0 254.1 L779.2 260.9" fill="none" stroke="#141414" stroke-width="1.00" />
<path d="M944.5 322.2 L945.9 324.3 L943.6 328.3 L943.1 331.0 L941.7 329.0" fill="none" stroke="#0a0a0a" stroke-width="1.10" />
<ellipse cx="748.0" cy="243.8" rx="2.8" ry="3.9" transform="rotate(-25.0 748.0 243.8)" fill="none" stroke="#0a0a0a" stroke-width="2.20"/>
<ellipse cx="753.5" cy="246.0" rx="1.7" ry="3.4" transform="rotate(24.8 753.5 246.0)" fill="#fff" stroke="#141414" stroke-width="1.00"/>
<path d="M752.1 249.1 L758.6 252.1 L761.4 245.9 L754.9 242.9 Z" fill="#fff" stroke="none"/>
<path d="M752.1 249.1 L758.6 252.1" fill="none" stroke="#141414" stroke-width="1.00" />
<path d="M754.9 242.9 L761.4 245.9" fill="none" stroke="#141414" stroke-width="1.00" />
<ellipse cx="760.0" cy="249.0" rx="1.7" ry="3.4" transform="rotate(24.8 760.0 249.0)" fill="#fff" stroke="#141414" stroke-width="1.00"/>
<ellipse cx="760.2" cy="249.0" rx="1.2" ry="3.0" transform="rotate(25.0 760.2 249.0)" fill="#333" stroke="#0a0a0a" stroke-width="1.60"/>
<ellipse cx="769.0" cy="251.5" rx="1.6" ry="3.3" transform="rotate(25.0 769.0 251.5)" fill="#fff" stroke="#141414" stroke-width="1.00"/>
<path d="M767.6 254.5 L773.6 257.3 L776.4 251.3 L770.4 248.5 Z" fill="#fff" stroke="none"/>
<path d="M767.6 254.5 L773.6 257.3" fill="none" stroke="#141414" stroke-width="1.00" />
<path d="M770.4 248.5 L776.4 251.3" fill="none" stroke="#141414" stroke-width="1.00" />
<ellipse cx="775.0" cy="254.3" rx="1.6" ry="3.3" transform="rotate(25.0 775.0 254.3)" fill="#fff" stroke="#141414" stroke-width="1.00"/>
<ellipse cx="769.0" cy="251.5" rx="1.6" ry="3.2" transform="rotate(25.0 769.0 251.5)" fill="#fff" stroke="#0a0a0a" stroke-width="1.20"/>
<ellipse cx="955.0" cy="331.3" rx="2.9" ry="4.0" transform="rotate(-25.0 955.0 331.3)" fill="none" stroke="#0a0a0a" stroke-width="2.20"/>
<path d="M799.0 228.7 L751.5 242.3" fill="none" stroke="#141414" stroke-width="1.30" />
<path d="M799.0 228.7 L760.5 246.0" fill="none" stroke="#141414" stroke-width="1.30" />
<path d="M799.0 228.7 L775.0 251.5" fill="none" stroke="#141414" stroke-width="1.30" />
<path d="M799.0 228.7 L793.5 262.5" fill="none" stroke="#141414" stroke-width="1.30" />
<path d="M799.0 228.7 L807.5 292.5" fill="none" stroke="#141414" stroke-width="1.30" />
<text x="801.5" y="149.0" font-size="14.7" textLength="11.0" lengthAdjust="spacingAndGlyphs" fill="#111" stroke="#111" stroke-width="0.45">23</text>
<path d="M798.8 151.0 L815.0 151.0" fill="none" stroke="#141414" stroke-width="1.30" />
<text x="802.1" y="166.5" font-size="14.2" textLength="16.8" lengthAdjust="spacingAndGlyphs" fill="#111" stroke="#111" stroke-width="0.45">23.1</text>
<path d="M798.8 151.0 L798.8 167.5 L812.7 167.5" fill="none" stroke="#141414" stroke-width="1.30" />
<text x="802.1" y="181.5" font-size="14.2" textLength="18.3" lengthAdjust="spacingAndGlyphs" fill="#111" stroke="#111" stroke-width="0.45">23.2</text>
<path d="M798.8 167.5 L798.8 182.5 L814.2 182.5" fill="none" stroke="#141414" stroke-width="1.30" />
<text x="802.1" y="196.5" font-size="14.2" textLength="18.3" lengthAdjust="spacingAndGlyphs" fill="#111" stroke="#111" stroke-width="0.45">23.3</text>
<path d="M798.8 182.5 L798.8 197.5 L814.2 197.5" fill="none" stroke="#141414" stroke-width="1.30" />
<text x="802.1" y="211.5" font-size="14.2" textLength="18.3" lengthAdjust="spacingAndGlyphs" fill="#111" stroke="#111" stroke-width="0.45">23.4</text>
<path d="M798.8 197.5 L798.8 212.5 L814.2 212.5" fill="none" stroke="#141414" stroke-width="1.30" />
<text x="802.1" y="227.7" font-size="14.2" textLength="23.0" lengthAdjust="spacingAndGlyphs" fill="#111" stroke="#111" stroke-width="0.45">(17.4)</text>
<path d="M798.8 212.5 L798.8 228.7 L818.8 228.7" fill="none" stroke="#141414" stroke-width="1.30" />
<text x="987.6" y="302.5" font-size="12.6" textLength="14.8" lengthAdjust="spacingAndGlyphs" fill="#111" stroke="#111" stroke-width="0.45">17.4</text>
<text x="978.6" y="302.7" font-size="13.2" textLength="2.9" lengthAdjust="spacingAndGlyphs" fill="#111" stroke="#111" stroke-width="0.45">(</text>
<text x="1008.6" y="302.7" font-size="13.2" textLength="2.9" lengthAdjust="spacingAndGlyphs" fill="#111" stroke="#111" stroke-width="0.45">)</text>
<path d="M985.5 305.7 L1004.5 305.7" fill="none" stroke="#141414" stroke-width="1.30" />
<path d="M985.5 305.7 L958.0 328.5" fill="none" stroke="#141414" stroke-width="1.30" />
<text x="685.8" y="172.6" font-size="13.1" textLength="8.4" lengthAdjust="spacingAndGlyphs" fill="#111" stroke="#111" stroke-width="0.45">19</text>
<path d="M682.5 175.0 L697.5 175.0" fill="none" stroke="#141414" stroke-width="1.30" />
<path d="M682.5 175.0 L626.5 246.0" fill="none" stroke="#141414" stroke-width="1.30" />
<text x="706.1" y="181.8" font-size="13.1" textLength="9.8" lengthAdjust="spacingAndGlyphs" fill="#111" stroke="#111" stroke-width="0.45">20</text>
<path d="M703.8 184.2 L718.0 184.2" fill="none" stroke="#141414" stroke-width="1.30" />
<path d="M703.8 184.2 L668.8 230.0" fill="none" stroke="#141414" stroke-width="1.30" />
<text x="735.8" y="193.8" font-size="13.1" textLength="8.4" lengthAdjust="spacingAndGlyphs" fill="#111" stroke="#111" stroke-width="0.45">21</text>
<path d="M732.5 196.2 L747.5 196.2" fill="none" stroke="#141414" stroke-width="1.30" />
<path d="M732.5 196.2 L708.8 246.2" fill="none" stroke="#141414" stroke-width="1.30" />
<text x="757.6" y="203.8" font-size="13.1" textLength="9.8" lengthAdjust="spacingAndGlyphs" fill="#111" stroke="#111" stroke-width="0.45">22</text>
<path d="M755.0 206.2 L770.0 206.2" fill="none" stroke="#141414" stroke-width="1.30" />
<path d="M755.0 206.2 L730.0 256.0" fill="none" stroke="#141414" stroke-width="1.30" />
<text x="575.4" y="275.6" font-size="13.1" textLength="11.1" lengthAdjust="spacingAndGlyphs" fill="#111" stroke="#111" stroke-width="0.45">B6</text>
<path d="M574.2 278.0 L588.8 278.0" fill="none" stroke="#141414" stroke-width="1.30" />
<path d="M588.8 278.0 L652.0 253.5" fill="none" stroke="#141414" stroke-width="1.30" />
<text x="574.8" y="290.0" font-size="14.7" textLength="12.5" lengthAdjust="spacingAndGlyphs" fill="#111" stroke="#111" stroke-width="0.45">B7</text>
<text x="574.8" y="303.0" font-size="14.7" textLength="12.5" lengthAdjust="spacingAndGlyphs" fill="#111" stroke="#111" stroke-width="0.45">B8</text>
<path d="M574.2 305.0 L588.8 305.0 L588.8 278.0" fill="none" stroke="#141414" stroke-width="1.30" />
<path d="M574.2 292.0 L588.8 292.0" fill="none" stroke="#141414" stroke-width="1.30" />
<text x="575.4" y="326.3" font-size="13.1" textLength="11.1" lengthAdjust="spacingAndGlyphs" fill="#111" stroke="#111" stroke-width="0.45">B9</text>
<path d="M574.2 328.7 L589.2 328.7" fill="none" stroke="#141414" stroke-width="1.30" />
<path d="M589.2 328.7 L660.0 259.5" fill="none" stroke="#141414" stroke-width="1.30" />
<path d="M878.8 156.8 C877.0 157.4 872.4 161.3 868.0 160.3 C863.6 159.3 856.6 155.4 852.2 151.0 C847.8 146.6 843.4 138.6 841.5 133.8 C839.6 129.0 840.4 126.1 840.8 122.3 C841.1 118.5 841.5 115.2 843.6 110.9 C845.8 106.6 849.2 100.8 853.7 96.5 C858.2 92.2 864.9 88.1 870.9 85.0 C876.9 81.9 884.2 79.3 889.5 77.9 C894.8 76.5 898.3 76.0 902.4 76.5 C906.5 77.0 910.3 78.2 913.9 80.8 C917.5 83.4 921.5 88.2 923.9 92.2 C926.3 96.2 927.6 100.5 928.2 105.1 C928.8 109.6 928.5 115.0 927.5 119.5 C926.5 124.0 924.8 128.6 922.5 132.4 C920.2 136.2 916.0 140.2 913.9 142.4 C911.8 144.6 910.3 144.8 909.6 145.3" fill="none" stroke="#141414" stroke-width="1.10" />
<path d="M879.5 154.6 C877.6 155.0 871.6 157.6 868.0 156.8 C864.4 156.0 861.1 153.2 858.0 149.6 C854.9 146.0 851.1 139.9 849.4 135.3 C847.7 130.8 847.7 126.1 847.9 122.3 C848.1 118.5 848.6 116.3 850.8 112.3 C852.9 108.2 856.5 102.0 860.8 98.0 C865.1 94.0 871.3 90.8 876.6 88.0 C881.9 85.2 887.6 82.8 892.4 81.5 C897.2 80.2 901.2 79.4 905.3 80.0 C909.4 80.6 913.4 82.5 916.8 85.0 C920.1 87.5 924.0 93.3 925.4 95.0" fill="none" stroke="#141414" stroke-width="1.00" />
<path d="M875.9 152.5 C874.4 152.2 869.6 152.9 866.6 151.0 C863.6 149.1 859.9 144.8 858.0 141.0 C856.1 137.2 855.1 131.8 855.1 128.0 C855.1 124.2 855.9 121.8 858.0 118.0 C860.1 114.2 864.0 108.7 868.0 105.1 C872.0 101.5 877.5 98.9 882.3 96.5 C887.1 94.1 892.9 91.8 896.7 90.8 C900.5 89.8 902.7 90.1 905.3 90.8 C907.9 91.5 910.6 92.9 912.5 95.1 C914.4 97.2 916.1 100.3 916.8 103.7 C917.5 107.1 917.5 111.4 916.8 115.2 C916.1 119.0 914.4 123.2 912.5 126.6 C910.6 129.9 907.4 133.1 905.3 135.3 C903.1 137.5 900.5 138.9 899.6 139.6" fill="none" stroke="#141414" stroke-width="1.00" />
<path d="M899.6 139.6 L905.5 143.5" fill="none" stroke="#141414" stroke-width="0.90" />
<path d="M905.3 135.3 L911.5 139.5" fill="none" stroke="#141414" stroke-width="0.90" />
<path d="M879 152 L878.5 161.5 Q884 169 890.5 168 L899 162" fill="#fff" stroke="#141414" stroke-width="1.10" />
<ellipse cx="885.2" cy="146.2" rx="5.5" ry="8.8" transform="rotate(26.7 885.2 146.2)" fill="#fff" stroke="#141414" stroke-width="1.10"/>
<path d="M881.2 154.1 L899.3 163.2 L907.3 147.4 L889.2 138.3 Z" fill="#fff" stroke="none"/>
<path d="M881.2 154.1 L899.3 163.2" fill="none" stroke="#141414" stroke-width="1.10" />
<path d="M889.2 138.3 L907.3 147.4" fill="none" stroke="#141414" stroke-width="1.10" />
<ellipse cx="903.3" cy="155.3" rx="5.5" ry="8.8" transform="rotate(26.7 903.3 155.3)" fill="#fff" stroke="#141414" stroke-width="1.10"/>
<ellipse cx="904.0" cy="156.5" rx="3.2" ry="6.2" transform="rotate(27.0 904.0 156.5)" fill="#fff" stroke="#141414" stroke-width="1.00"/>
<ellipse cx="885.8" cy="164.6" rx="1.7" ry="2.1" transform="rotate(0.0 885.8 164.6)" fill="#555" stroke="#0a0a0a" stroke-width="1.30"/>
<path d="M895.8 166.0 L895.8 320.0" fill="none" stroke="#141414" stroke-width="1.30" />
<path d="M832.5 194.5 L883.0 168.0" fill="none" stroke="#141414" stroke-width="1.00" stroke-dasharray="14 3 3 3"/>
<path d="M846.5 186.6 L853.8 182.8" fill="none" stroke="#111" stroke-width="2.00" stroke-dasharray="1.2 0.7"/>
<circle cx="841.5" cy="189.3" r="1.4" fill="#111"/>
<text x="956.1" y="76.1" font-size="13.1" textLength="9.8" lengthAdjust="spacingAndGlyphs" fill="#111" stroke="#111" stroke-width="0.45">24</text>
<path d="M950.0 78.5 L967.0 78.5" fill="none" stroke="#141414" stroke-width="1.30" />
<path d="M950.0 78.5 L920.0 100.0" fill="none" stroke="#141414" stroke-width="1.30" />
<text x="991.1" y="96.3" font-size="13.1" textLength="16.8" lengthAdjust="spacingAndGlyphs" fill="#111" stroke="#111" stroke-width="0.45">(B4)</text>
<path d="M990.0 98.7 L1007.5 98.7" fill="none" stroke="#141414" stroke-width="1.30" />
<path d="M990.0 98.7 L911.0 154.5" fill="none" stroke="#141414" stroke-width="1.30" />
<circle cx="944.0" cy="134.5" r="1.6" fill="#111"/>
<path d="M944.0 135.0 L947.5 137.5" fill="none" stroke="#111" stroke-width="1.60" stroke-dasharray="1.2 0.7"/>
<text x="951.8" y="181.5" font-size="14.7" textLength="16.4" lengthAdjust="spacingAndGlyphs" fill="#111" stroke="#111" stroke-width="0.45">B10</text>
<path d="M966.5 183.4 L852.5 187.5" fill="none" stroke="#141414" stroke-width="1.30" />
<circle cx="307" cy="600.5" r="5" fill="#fff" stroke="#141414" stroke-width="0.9"/>
<path d="M307 600.5 L497 682.5" fill="none" stroke="#141414" stroke-width="11.70" stroke-linecap="butt"/>
<path d="M307 600.5 L497 682.5" fill="none" stroke="#fff" stroke-width="8.70" stroke-linecap="butt"/>
<ellipse cx="497.2" cy="682.7" rx="3.0" ry="5.1" transform="rotate(23.0 497.2 682.7)" fill="#fff" stroke="#141414" stroke-width="1.00"/>
<circle cx="306.0" cy="603.0" r="0.6" fill="#111"/>
<path d="M344.7 593.3 L486.8 654.2" fill="none" stroke="#111" stroke-width="1.25" />
<path d="M344.1 594.7 L486.2 655.6" fill="none" stroke="#333" stroke-width="0.80" />
<path d="M343.5 596.2 L485.6 657.1" fill="none" stroke="#111" stroke-width="1.50" />
<path d="M342.9 597.7 L485.0 658.6" fill="none" stroke="#333" stroke-width="0.80" />
<path d="M342.3 599.1 L484.4 660.0" fill="none" stroke="#111" stroke-width="1.25" />
<path d="M344.7 593.3 L342.3 599.1" fill="none" stroke="#141414" stroke-width="1.00" />
<path d="M486.8 654.2 L488.2 656.3 L486.1 659.8 L485.7 662.1 L484.4 660.0" fill="none" stroke="#0a0a0a" stroke-width="1.10" />
<ellipse cx="315.5" cy="585.0" rx="2.7" ry="3.7" transform="rotate(-25.0 315.5 585.0)" fill="none" stroke="#0a0a0a" stroke-width="2.10"/>
<ellipse cx="320.5" cy="587.8" rx="1.6" ry="3.2" transform="rotate(22.6 320.5 587.8)" fill="#fff" stroke="#141414" stroke-width="1.00"/>
<path d="M319.3 590.8 L325.3 593.3 L327.7 587.3 L321.7 584.8 Z" fill="#fff" stroke="none"/>
<path d="M319.3 590.8 L325.3 593.3" fill="none" stroke="#141414" stroke-width="1.00" />
<path d="M321.7 584.8 L327.7 587.3" fill="none" stroke="#141414" stroke-width="1.00" />
<ellipse cx="326.5" cy="590.3" rx="1.6" ry="3.2" transform="rotate(22.6 326.5 590.3)" fill="#fff" stroke="#141414" stroke-width="1.00"/>
<ellipse cx="326.7" cy="590.4" rx="1.2" ry="2.9" transform="rotate(25.0 326.7 590.4)" fill="#333" stroke="#0a0a0a" stroke-width="1.50"/>
<ellipse cx="334.0" cy="592.8" rx="1.6" ry="3.1" transform="rotate(23.6 334.0 592.8)" fill="#fff" stroke="#141414" stroke-width="1.00"/>
<path d="M332.8 595.6 L338.3 598.0 L340.7 592.4 L335.2 590.0 Z" fill="#fff" stroke="none"/>
<path d="M332.8 595.6 L338.3 598.0" fill="none" stroke="#141414" stroke-width="1.00" />
<path d="M335.2 590.0 L340.7 592.4" fill="none" stroke="#141414" stroke-width="1.00" />
<ellipse cx="339.5" cy="595.2" rx="1.6" ry="3.1" transform="rotate(23.6 339.5 595.2)" fill="#fff" stroke="#141414" stroke-width="1.00"/>
<ellipse cx="334.0" cy="592.8" rx="1.5" ry="3.0" transform="rotate(25.0 334.0 592.8)" fill="#fff" stroke="#0a0a0a" stroke-width="1.20"/>
<ellipse cx="496.0" cy="662.0" rx="2.7" ry="3.7" transform="rotate(-25.0 496.0 662.0)" fill="none" stroke="#0a0a0a" stroke-width="2.10"/>
<path d="M360.0 572.0 L318.5 583.5" fill="none" stroke="#141414" stroke-width="1.30" />
<path d="M360.0 572.0 L327.5 587.0" fill="none" stroke="#141414" stroke-width="1.30" />
<path d="M360.0 572.0 L339.0 592.0" fill="none" stroke="#141414" stroke-width="1.30" />
<path d="M360.0 572.0 L355.0 602.5" fill="none" stroke="#141414" stroke-width="1.30" />
<path d="M360.0 572.0 L366.0 628.8" fill="none" stroke="#141414" stroke-width="1.30" />
<text x="362.0" y="501.0" font-size="13.3" textLength="10.0" lengthAdjust="spacingAndGlyphs" fill="#111" stroke="#111" stroke-width="0.45">23</text>
<path d="M360.0 503.0 L373.0 503.0" fill="none" stroke="#141414" stroke-width="1.30" />
<text x="363.4" y="515.0" font-size="12.9" textLength="15.2" lengthAdjust="spacingAndGlyphs" fill="#111" stroke="#111" stroke-width="0.45">23.1</text>
<path d="M360.0 503.0 L360.0 516.0 L372.4 516.0" fill="none" stroke="#141414" stroke-width="1.30" />
<text x="363.4" y="529.0" font-size="12.9" textLength="16.6" lengthAdjust="spacingAndGlyphs" fill="#111" stroke="#111" stroke-width="0.45">23.2</text>
<path d="M360.0 516.0 L360.0 530.0 L373.7 530.0" fill="none" stroke="#141414" stroke-width="1.30" />
<text x="363.4" y="541.5" font-size="12.9" textLength="16.6" lengthAdjust="spacingAndGlyphs" fill="#111" stroke="#111" stroke-width="0.45">23.3</text>
<path d="M360.0 530.0 L360.0 542.5 L373.7 542.5" fill="none" stroke="#141414" stroke-width="1.30" />
<text x="363.4" y="554.8" font-size="12.9" textLength="16.6" lengthAdjust="spacingAndGlyphs" fill="#111" stroke="#111" stroke-width="0.45">23.4</text>
<path d="M360.0 542.5 L360.0 555.8 L373.7 555.8" fill="none" stroke="#141414" stroke-width="1.30" />
<text x="363.4" y="571.0" font-size="12.9" textLength="20.8" lengthAdjust="spacingAndGlyphs" fill="#111" stroke="#111" stroke-width="0.45">(17.4)</text>
<path d="M360.0 555.8 L360.0 572.0 L377.9 572.0" fill="none" stroke="#141414" stroke-width="1.30" />
<text x="524.0" y="636.3" font-size="11.9" textLength="14.0" lengthAdjust="spacingAndGlyphs" fill="#111" stroke="#111" stroke-width="0.45">17.4</text>
<text x="516.6" y="636.5" font-size="12.5" textLength="2.7" lengthAdjust="spacingAndGlyphs" fill="#111" stroke="#111" stroke-width="0.45">(</text>
<text x="542.6" y="636.5" font-size="12.5" textLength="2.7" lengthAdjust="spacingAndGlyphs" fill="#111" stroke="#111" stroke-width="0.45">)</text>
<path d="M522.2 639.5 L539.8 639.5" fill="none" stroke="#141414" stroke-width="1.30" />
<path d="M522.2 639.5 L498.5 659.5" fill="none" stroke="#141414" stroke-width="1.30" />
<path d="M741.7 462.7 L931.1 564.2" fill="none" stroke="#111" stroke-width="1.25" />
<path d="M740.9 464.0 L930.3 565.5" fill="none" stroke="#333" stroke-width="0.80" />
<path d="M740.0 465.8 L929.4 567.3" fill="none" stroke="#111" stroke-width="1.50" />
<path d="M739.1 467.6 L928.5 569.1" fill="none" stroke="#333" stroke-width="0.80" />
<path d="M738.3 468.9 L927.7 570.4" fill="none" stroke="#111" stroke-width="1.25" />
<path d="M741.7 462.7 L738.3 468.9" fill="none" stroke="#141414" stroke-width="1.00" />
<path d="M931.1 564.2 L932.4 566.4 L929.8 570.0 L929.1 572.6 L927.7 570.4" fill="none" stroke="#0a0a0a" stroke-width="1.10" />
<ellipse cx="731.7" cy="462.8" rx="2.9" ry="4.0" transform="rotate(-30.0 731.7 462.8)" fill="none" stroke="#0a0a0a" stroke-width="2.20"/>
<circle cx="725.8" cy="555.9" r="6.1" fill="#fff" stroke="#141414" stroke-width="1.3"/>
<path d="M725.8 555.9 C726.9 554.3 729.5 550.2 732.6 546.6 C735.6 543.0 740.0 537.6 743.9 534.2 C747.9 530.8 751.7 528.0 756.4 526.0 C761.0 524.0 767.9 522.7 771.6 521.9 C775.3 521.1 774.8 521.0 778.5 521.3 C782.2 521.6 788.2 522.0 793.5 523.5 C798.9 525.0 804.7 527.3 810.6 530.0 C816.4 532.7 819.8 534.8 828.7 539.5 C837.5 544.2 851.7 551.6 863.8 558.1 C876.0 564.6 889.7 571.8 901.6 578.3 C913.5 584.8 929.7 594.0 935.3 597.1" fill="none" stroke="#141414" stroke-width="13.80" stroke-linecap="butt"/>
<path d="M725.8 555.9 C726.9 554.3 729.5 550.2 732.6 546.6 C735.6 543.0 740.0 537.6 743.9 534.2 C747.9 530.8 751.7 528.0 756.4 526.0 C761.0 524.0 767.9 522.7 771.6 521.9 C775.3 521.1 774.8 521.0 778.5 521.3 C782.2 521.6 788.2 522.0 793.5 523.5 C798.9 525.0 804.7 527.3 810.6 530.0 C816.4 532.7 819.8 534.8 828.7 539.5 C837.5 544.2 851.7 551.6 863.8 558.1 C876.0 564.6 889.7 571.8 901.6 578.3 C913.5 584.8 929.7 594.0 935.3 597.1" fill="none" stroke="#fff" stroke-width="10.80" stroke-linecap="butt"/>
<ellipse cx="935.8" cy="597.4" rx="3.3" ry="6.1" transform="rotate(27.0 935.8 597.4)" fill="#fff" stroke="#141414" stroke-width="1.20"/>
<circle cx="923.0" cy="586.5" r="0.7" fill="#111"/>
<circle cx="927.5" cy="588.5" r="0.7" fill="#111"/>
<g transform="translate(729.5 537.5)">
<path d="M-5 6 L-7 -1 L-3 -4 L3 -7 L6 -9 L9 -5 L4 -2 L5 2 Z" fill="#fff" stroke="#111" stroke-width="1.1"/>
<path d="M-3 -4 L-1 1 L4 -2" fill="none" stroke="#111" stroke-width="0.9"/>
<rect x="-4" y="-2.5" width="2.2" height="2.2" fill="#111"/>
</g>
<rect x="716.0" y="527.4" width="5" height="2.2" rx="1" transform="rotate(38 718.5 528.5)" fill="#fff" stroke="#111" stroke-width="0.9"/>
<rect x="711.0" y="533.9" width="5" height="2.2" rx="1" transform="rotate(38 713.5 535.0)" fill="#fff" stroke="#111" stroke-width="0.9"/>
<ellipse cx="937.0" cy="571.8" rx="2.9" ry="4.0" transform="rotate(-25.0 937.0 571.8)" fill="none" stroke="#0a0a0a" stroke-width="2.20"/>
<path d="M928.0 582.5 L933.5 585.5" fill="none" stroke="#0a0a0a" stroke-width="1.60" />
<path d="M874.2 494.5 L735.5 462.5" fill="none" stroke="#141414" stroke-width="1.30" />
<path d="M874.2 494.5 L743.0 465.0" fill="none" stroke="#141414" stroke-width="1.30" />
<path d="M874.2 494.5 L830.0 537.0" fill="none" stroke="#141414" stroke-width="1.30" />
<path d="M874.2 494.5 L925.0 571.0" fill="none" stroke="#141414" stroke-width="1.30" />
<path d="M874.2 494.5 L932.0 584.0" fill="none" stroke="#141414" stroke-width="1.30" />
<text x="877.3" y="434.0" font-size="14.7" textLength="9.4" lengthAdjust="spacingAndGlyphs" fill="#111" stroke="#111" stroke-width="0.45">17</text>
<path d="M874.2 435.8 L890.0 435.8" fill="none" stroke="#141414" stroke-width="1.30" />
<text x="877.6" y="449.8" font-size="14.2" textLength="15.2" lengthAdjust="spacingAndGlyphs" fill="#111" stroke="#111" stroke-width="0.45">17.1</text>
<path d="M874.2 435.8 L874.2 450.8 L886.7 450.8" fill="none" stroke="#141414" stroke-width="1.30" />
<text x="877.6" y="464.8" font-size="14.2" textLength="16.8" lengthAdjust="spacingAndGlyphs" fill="#111" stroke="#111" stroke-width="0.45">17.2</text>
<path d="M874.2 450.8 L874.2 465.8 L888.2 465.8" fill="none" stroke="#141414" stroke-width="1.30" />
<text x="877.6" y="479.0" font-size="14.2" textLength="16.8" lengthAdjust="spacingAndGlyphs" fill="#111" stroke="#111" stroke-width="0.45">17.3</text>
<path d="M874.2 465.8 L874.2 480.0 L888.2 480.0" fill="none" stroke="#141414" stroke-width="1.30" />
<text x="877.6" y="493.5" font-size="14.2" textLength="16.8" lengthAdjust="spacingAndGlyphs" fill="#111" stroke="#111" stroke-width="0.45">17.4</text>
<path d="M874.2 480.0 L874.2 494.5 L888.2 494.5" fill="none" stroke="#141414" stroke-width="1.30" />
<text x="958.0" y="537.5" font-size="11.9" textLength="14.0" lengthAdjust="spacingAndGlyphs" fill="#111" stroke="#111" stroke-width="0.45">17.4</text>
<text x="951.1" y="537.7" font-size="12.5" textLength="2.7" lengthAdjust="spacingAndGlyphs" fill="#111" stroke="#111" stroke-width="0.45">(</text>
<text x="976.1" y="537.7" font-size="12.5" textLength="2.7" lengthAdjust="spacingAndGlyphs" fill="#111" stroke="#111" stroke-width="0.45">)</text>
<path d="M956.5 540.7 L973.5 540.7" fill="none" stroke="#141414" stroke-width="1.30" />
<path d="M956.5 540.7 L939.0 568.5" fill="none" stroke="#141414" stroke-width="1.30" />
<ellipse cx="609.5" cy="686.3" rx="1.0" ry="2.4" transform="rotate(-46.2 609.5 686.3)" fill="#fff" stroke="#141414" stroke-width="0.90"/>
<path d="M611.2 688.0 L620.9 677.9 L617.4 674.6 L607.8 684.6 Z" fill="#fff" stroke="none"/>
<path d="M611.2 688.0 L620.9 677.9" fill="none" stroke="#141414" stroke-width="0.90" />
<path d="M607.8 684.6 L617.4 674.6" fill="none" stroke="#141414" stroke-width="0.90" />
<ellipse cx="619.2" cy="676.2" rx="1.0" ry="2.4" transform="rotate(-46.2 619.2 676.2)" fill="#fff" stroke="#141414" stroke-width="0.90"/>
<ellipse cx="617.8" cy="677.7" rx="1.5" ry="3.7" transform="rotate(-46.2 617.8 677.7)" fill="#fff" stroke="#141414" stroke-width="1.00"/>
<path d="M620.5 680.2 L625.5 674.9 L620.2 669.8 L615.1 675.1 Z" fill="#fff" stroke="none"/>
<path d="M620.5 680.2 L625.5 674.9" fill="none" stroke="#141414" stroke-width="1.00" />
<path d="M615.1 675.1 L620.2 669.8" fill="none" stroke="#141414" stroke-width="1.00" />
<ellipse cx="622.8" cy="672.4" rx="1.5" ry="3.7" transform="rotate(-46.2 622.8 672.4)" fill="#fff" stroke="#141414" stroke-width="1.00"/>
<ellipse cx="622.8" cy="672.4" rx="0.9" ry="2.2" transform="rotate(-46.2 622.8 672.4)" fill="#fff" stroke="#141414" stroke-width="0.90"/>
<path d="M624.4 673.9 L631.8 666.2 L628.6 663.2 L621.3 670.9 Z" fill="#fff" stroke="none"/>
<path d="M624.4 673.9 L631.8 666.2" fill="none" stroke="#141414" stroke-width="0.90" />
<path d="M621.3 670.9 L628.6 663.2" fill="none" stroke="#141414" stroke-width="0.90" />
<ellipse cx="630.2" cy="664.7" rx="0.9" ry="2.2" transform="rotate(-46.2 630.2 664.7)" fill="#fff" stroke="#141414" stroke-width="0.90"/>
<ellipse cx="630.2" cy="664.7" rx="0.6" ry="1.5" transform="rotate(-46.2 630.2 664.7)" fill="#fff" stroke="#141414" stroke-width="0.90"/>
<path d="M631.3 665.7 L633.6 663.3 L631.4 661.3 L629.1 663.7 Z" fill="#fff" stroke="none"/>
<path d="M631.3 665.7 L633.6 663.3" fill="none" stroke="#141414" stroke-width="0.90" />
<path d="M629.1 663.7 L631.4 661.3" fill="none" stroke="#141414" stroke-width="0.90" />
<ellipse cx="632.5" cy="662.3" rx="0.6" ry="1.5" transform="rotate(-46.2 632.5 662.3)" fill="#fff" stroke="#141414" stroke-width="0.90"/>
<ellipse cx="641.1" cy="651.7" rx="1.8" ry="3.6" transform="rotate(-45.0 641.1 651.7)" fill="#fff" stroke="#141414" stroke-width="1.30"/>
<path d="M643.6 654.3 L647.5 650.4 L642.4 645.3 L638.5 649.2 Z" fill="#fff" stroke="none"/>
<path d="M643.6 654.3 L647.5 650.4" fill="none" stroke="#141414" stroke-width="1.30" />
<path d="M638.5 649.2 L642.4 645.3" fill="none" stroke="#141414" stroke-width="1.30" />
<ellipse cx="644.9" cy="647.9" rx="1.8" ry="3.6" transform="rotate(-45.0 644.9 647.9)" fill="#fff" stroke="#141414" stroke-width="1.30"/>
<ellipse cx="644.9" cy="647.9" rx="0.9" ry="1.8" transform="rotate(-45.0 644.9 647.9)" fill="#333" stroke="#0a0a0a" stroke-width="1.20"/>
<ellipse cx="651.5" cy="641.3" rx="2.6" ry="5.2" transform="rotate(-48.7 651.5 641.3)" fill="#fff" stroke="#141414" stroke-width="1.00"/>
<path d="M655.4 644.7 L666.4 632.2 L658.6 625.4 L647.6 637.9 Z" fill="#fff" stroke="none"/>
<path d="M655.4 644.7 L666.4 632.2" fill="none" stroke="#141414" stroke-width="1.00" />
<path d="M647.6 637.9 L658.6 625.4" fill="none" stroke="#141414" stroke-width="1.00" />
<ellipse cx="662.5" cy="628.8" rx="2.6" ry="5.2" transform="rotate(-48.7 662.5 628.8)" fill="#fff" stroke="#141414" stroke-width="1.00"/>
<ellipse cx="672.5" cy="617.3" rx="1.8" ry="2.4" transform="rotate(-45.0 672.5 617.3)" fill="#333" stroke="#0a0a0a" stroke-width="1.60"/>
<ellipse cx="682.0" cy="606.8" rx="1.8" ry="2.4" transform="rotate(-45.0 682.0 606.8)" fill="#333" stroke="#0a0a0a" stroke-width="1.60"/>
<ellipse cx="692.1" cy="595.7" rx="1.8" ry="3.6" transform="rotate(-45.0 692.1 595.7)" fill="#fff" stroke="#141414" stroke-width="1.30"/>
<path d="M694.6 598.3 L698.5 594.4 L693.4 589.3 L689.5 593.2 Z" fill="#fff" stroke="none"/>
<path d="M694.6 598.3 L698.5 594.4" fill="none" stroke="#141414" stroke-width="1.30" />
<path d="M689.5 593.2 L693.4 589.3" fill="none" stroke="#141414" stroke-width="1.30" />
<ellipse cx="695.9" cy="591.9" rx="1.8" ry="3.6" transform="rotate(-45.0 695.9 591.9)" fill="#fff" stroke="#141414" stroke-width="1.30"/>
<ellipse cx="695.9" cy="591.9" rx="0.9" ry="1.8" transform="rotate(-45.0 695.9 591.9)" fill="#333" stroke="#0a0a0a" stroke-width="1.20"/>
<ellipse cx="704.8" cy="580.0" rx="1.4" ry="2.8" transform="rotate(-45.0 704.8 580.0)" fill="#fff" stroke="#141414" stroke-width="1.30"/>
<path d="M706.7 582.0 L709.2 579.5 L705.3 575.6 L702.8 578.1 Z" fill="#fff" stroke="none"/>
<path d="M706.7 582.0 L709.2 579.5" fill="none" stroke="#141414" stroke-width="1.30" />
<path d="M702.8 578.1 L705.3 575.6" fill="none" stroke="#141414" stroke-width="1.30" />
<ellipse cx="707.2" cy="577.6" rx="1.4" ry="2.8" transform="rotate(-45.0 707.2 577.6)" fill="#fff" stroke="#141414" stroke-width="1.30"/>
<ellipse cx="707.2" cy="577.6" rx="0.7" ry="1.4" transform="rotate(-45.0 707.2 577.6)" fill="#333" stroke="#0a0a0a" stroke-width="1.20"/>
<ellipse cx="716.0" cy="568.6" rx="2.2" ry="3.0" transform="rotate(-45.0 716.0 568.6)" fill="none" stroke="#0a0a0a" stroke-width="1.40"/>
<path d="M635.0 659.3 L639.0 654.8" fill="none" stroke="#141414" stroke-width="1.00" />
<path d="M646.5 646.3 L648.5 644.3" fill="none" stroke="#141414" stroke-width="1.00" />
<path d="M666.0 624.8 L670.0 620.3" fill="none" stroke="#141414" stroke-width="1.00" />
<path d="M675.0 614.3 L679.5 609.3" fill="none" stroke="#141414" stroke-width="1.00" />
<path d="M685.0 603.8 L690.5 597.8" fill="none" stroke="#141414" stroke-width="1.00" />
<path d="M698.0 589.3 L702.5 583.8" fill="none" stroke="#141414" stroke-width="1.00" />
<path d="M709.0 575.3 L713.0 571.3" fill="none" stroke="#141414" stroke-width="1.00" />
<path d="M719.0 565.3 L723.5 560.3" fill="none" stroke="#141414" stroke-width="1.00" />
<text x="694.1" y="487.6" font-size="13.1" textLength="9.7" lengthAdjust="spacingAndGlyphs" fill="#111" stroke="#111" stroke-width="0.45">B1</text>
<path d="M690.0 490.0 L705.0 490.0" fill="none" stroke="#141414" stroke-width="1.30" />
<path d="M705.0 490.0 L717.5 527.0" fill="none" stroke="#141414" stroke-width="1.30" />
<text x="683.8" y="504.6" font-size="13.1" textLength="8.4" lengthAdjust="spacingAndGlyphs" fill="#111" stroke="#111" stroke-width="0.45">13</text>
<path d="M678.8 507.0 L693.8 507.0" fill="none" stroke="#141414" stroke-width="1.30" />
<path d="M693.8 507.0 L725.0 541.0" fill="none" stroke="#141414" stroke-width="1.30" />
<text x="667.2" y="521.3" font-size="13.1" textLength="14.6" lengthAdjust="spacingAndGlyphs" fill="#111" stroke="#111" stroke-width="0.45">B19</text>
<path d="M666.0 523.7 L682.5 523.7" fill="none" stroke="#141414" stroke-width="1.30" />
<path d="M682.5 523.7 L714.0 566.5" fill="none" stroke="#141414" stroke-width="1.30" />
<text x="657.8" y="534.3" font-size="13.1" textLength="8.4" lengthAdjust="spacingAndGlyphs" fill="#111" stroke="#111" stroke-width="0.45">12</text>
<path d="M652.5 536.7 L667.5 536.7" fill="none" stroke="#141414" stroke-width="1.30" />
<path d="M667.5 536.7 L705.0 577.0" fill="none" stroke="#141414" stroke-width="1.30" />
<text x="638.5" y="551.3" font-size="13.1" textLength="10.6" lengthAdjust="spacingAndGlyphs" fill="#111" stroke="#111" stroke-width="0.45">(9)</text>
<path d="M637.5 553.7 L651.0 553.7" fill="none" stroke="#141414" stroke-width="1.30" />
<path d="M651.0 553.7 L692.0 592.5" fill="none" stroke="#141414" stroke-width="1.30" />
<text x="622.4" y="570.1" font-size="13.1" textLength="12.6" lengthAdjust="spacingAndGlyphs" fill="#111" stroke="#111" stroke-width="0.45">(11)</text>
<path d="M621.0 572.5 L636.0 572.5" fill="none" stroke="#141414" stroke-width="1.30" />
<path d="M636.0 572.5 L681.0 605.5" fill="none" stroke="#141414" stroke-width="1.30" />
<text x="611.0" y="587.6" font-size="13.1" textLength="6.9" lengthAdjust="spacingAndGlyphs" fill="#111" stroke="#111" stroke-width="0.45">11</text>
<path d="M605.5 590.0 L620.0 590.0" fill="none" stroke="#141414" stroke-width="1.30" />
<path d="M620.0 590.0 L671.5 616.0" fill="none" stroke="#141414" stroke-width="1.30" />
<text x="593.8" y="605.6" font-size="13.1" textLength="8.4" lengthAdjust="spacingAndGlyphs" fill="#111" stroke="#111" stroke-width="0.45">10</text>
<path d="M588.8 608.0 L603.8 608.0" fill="none" stroke="#141414" stroke-width="1.30" />
<path d="M603.8 608.0 L655.0 633.0" fill="none" stroke="#141414" stroke-width="1.30" />
<text x="580.6" y="621.3" font-size="13.1" textLength="4.9" lengthAdjust="spacingAndGlyphs" fill="#111" stroke="#111" stroke-width="0.45">9</text>
<path d="M576.0 623.7 L588.8 623.7" fill="none" stroke="#141414" stroke-width="1.30" />
<path d="M588.8 623.7 L641.0 648.0" fill="none" stroke="#141414" stroke-width="1.30" />
<text x="566.3" y="638.3" font-size="13.1" textLength="4.9" lengthAdjust="spacingAndGlyphs" fill="#111" stroke="#111" stroke-width="0.45">8</text>
<path d="M561.0 640.7 L575.0 640.7" fill="none" stroke="#141414" stroke-width="1.30" />
<path d="M575.0 640.7 L622.5 670.0" fill="none" stroke="#141414" stroke-width="1.30" />
<path d="M1209.4 447.6 L1443.7 546.4" fill="none" stroke="#141414" stroke-width="1.30" />
<path d="M1183.6 466.4 L1422.6 566.9" fill="none" stroke="#141414" stroke-width="1.30" />
<path d="M973.5 360.5 L985.0 365.4" fill="none" stroke="#141414" stroke-width="1.00" />
<path d="M1007.0 374.7 L1040.0 388.7" fill="none" stroke="#141414" stroke-width="1.00" />
<path d="M1056.0 395.5 L1066.0 399.7" fill="none" stroke="#141414" stroke-width="1.00" />
<path d="M1074.0 403.1 L1077.0 404.3" fill="none" stroke="#141414" stroke-width="1.00" />
<path d="M1093.0 411.1 L1097.0 412.8" fill="none" stroke="#141414" stroke-width="1.00" />
<path d="M1134.0 428.5 L1137.5 430.0" fill="none" stroke="#141414" stroke-width="1.00" />
<path d="M1147.0 434.0 L1160.0 439.5" fill="none" stroke="#141414" stroke-width="1.00" />
<path d="M1208.0 459.8 L1217.5 463.8" fill="none" stroke="#141414" stroke-width="1.00" />
<path d="M1228.0 468.3 L1232.0 470.0" fill="none" stroke="#141414" stroke-width="1.00" />
<path d="M1316.0 505.6 L1324.0 508.9" fill="none" stroke="#141414" stroke-width="1.00" />
<path d="M1368.0 527.6 L1387.0 535.6" fill="none" stroke="#141414" stroke-width="1.00" />
<path d="M1397.5 540.1 L1420.0 549.6" fill="none" stroke="#141414" stroke-width="1.00" />
<path d="M1470.0 570.8 L1483.0 576.3" fill="none" stroke="#141414" stroke-width="1.00" />
<path d="M1483.0 576.3 L1511.0 588.1" fill="none" stroke="#141414" stroke-width="1.00" />
<ellipse cx="984.5" cy="365.2" rx="1.2" ry="2.6" transform="rotate(23.0 984.5 365.2)" fill="#fff" stroke="#141414" stroke-width="1.00"/>
<path d="M983.5 367.6 L994.0 372.0 L996.0 367.2 L985.5 362.8 Z" fill="#fff" stroke="none"/>
<path d="M983.5 367.6 L994.0 372.0" fill="none" stroke="#141414" stroke-width="1.00" />
<path d="M985.5 362.8 L996.0 367.2" fill="none" stroke="#141414" stroke-width="1.00" />
<ellipse cx="995.0" cy="369.6" rx="1.2" ry="2.6" transform="rotate(23.0 995.0 369.6)" fill="#fff" stroke="#141414" stroke-width="1.00"/>
<ellipse cx="994.0" cy="369.2" rx="1.8" ry="4.0" transform="rotate(23.0 994.0 369.2)" fill="#fff" stroke="#141414" stroke-width="1.00"/>
<path d="M992.4 372.9 L1003.4 377.5 L1006.6 370.2 L995.6 365.5 Z" fill="#fff" stroke="none"/>
<path d="M992.4 372.9 L1003.4 377.5" fill="none" stroke="#141414" stroke-width="1.00" />
<path d="M995.6 365.5 L1006.6 370.2" fill="none" stroke="#141414" stroke-width="1.00" />
<ellipse cx="1005.0" cy="373.9" rx="1.8" ry="4.0" transform="rotate(23.0 1005.0 373.9)" fill="#555" stroke="#141414" stroke-width="1.00"/>
<path d="M983 384 Q990 381.5 995.5 375.5" fill="none" stroke="#0a0a0a" stroke-width="1.20" />
<rect x="1020.0" y="368.1" width="12.0" height="5.4" rx="2" transform="rotate(23.0 1026.0 370.8)" fill="#1a1a1a"/>
<rect x="1014.0" y="383.7" width="12.0" height="5.4" rx="2" transform="rotate(23.0 1020.0 386.4)" fill="#1a1a1a"/>
<rect x="1004.7" y="389.6" width="12.0" height="5.4" rx="2" transform="rotate(23.0 1010.7 392.3)" fill="#1a1a1a"/>
<ellipse cx="1037.7" cy="375.3" rx="1.8" ry="2.5" transform="rotate(20.0 1037.7 375.3)" fill="#555" stroke="#0a0a0a" stroke-width="1.50"/>
<ellipse cx="1030.7" cy="391.3" rx="1.8" ry="2.5" transform="rotate(20.0 1030.7 391.3)" fill="#555" stroke="#0a0a0a" stroke-width="1.50"/>
<ellipse cx="1021.8" cy="397.5" rx="1.8" ry="2.5" transform="rotate(20.0 1021.8 397.5)" fill="#555" stroke="#0a0a0a" stroke-width="1.50"/>
<g transform="translate(1047.8 393.0)">
<path d="M6 -15 Q10 -16 11 -12 L12 -2 L9 8 Q8 12 4 13 L-5 14.5 Q-10 15 -12 11 L-13 7 Q-13 4 -10 0 L2 -13 Q4 -15 6 -15 Z" fill="#fff" stroke="#111" stroke-width="1.1"/>
<path d="M-12 11 L-10 14 Q-8 17 -4 16.5 L6 15 Q9 14 10.5 10" fill="none" stroke="#111" stroke-width="1"/>
<ellipse cx="1" cy="0" rx="6.3" ry="8.4" transform="rotate(20)" fill="#fff" stroke="#111" stroke-width="1.1"/>
<ellipse cx="1.6" cy="0" rx="4.3" ry="6.3" transform="rotate(20)" fill="none" stroke="#111" stroke-width="1"/>
<ellipse cx="7.5" cy="-11.5" rx="1.2" ry="1.6" fill="#fff" stroke="#111" stroke-width="0.9"/>
<ellipse cx="-8.5" cy="7.0" rx="1.2" ry="1.6" fill="#fff" stroke="#111" stroke-width="0.9"/>
<ellipse cx="7.0" cy="9.0" rx="1.2" ry="1.6" fill="#fff" stroke="#111" stroke-width="0.9"/>
</g>
<ellipse cx="1070.0" cy="401.4" rx="3.0" ry="4.6" transform="rotate(20.0 1070.0 401.4)" fill="#fff" stroke="#0a0a0a" stroke-width="2.00"/>
<ellipse cx="1080.5" cy="405.8" rx="7.5" ry="9.6" transform="rotate(23.0 1080.5 405.8)" fill="#fff" stroke="#141414" stroke-width="1.10"/>
<path d="M1076.8 414.7 L1081.8 416.8 L1089.2 399.1 L1084.2 397.0 Z" fill="#fff" stroke="none"/>
<path d="M1076.8 414.7 L1081.8 416.8" fill="none" stroke="#141414" stroke-width="1.10" />
<path d="M1084.2 397.0 L1089.2 399.1" fill="none" stroke="#141414" stroke-width="1.10" />
<ellipse cx="1085.5" cy="407.9" rx="7.5" ry="9.6" transform="rotate(23.0 1085.5 407.9)" fill="#fff" stroke="#141414" stroke-width="1.10"/>
<ellipse cx="1086.0" cy="408.2" rx="2.2" ry="2.8" transform="rotate(20.0 1086.0 408.2)" fill="#fff" stroke="#0a0a0a" stroke-width="1.00"/>
<ellipse cx="1097.0" cy="412.8" rx="1.4" ry="3.2" transform="rotate(23.0 1097.0 412.8)" fill="#fff" stroke="#141414" stroke-width="1.00"/>
<path d="M1095.8 415.8 L1107.8 420.8 L1110.2 414.9 L1098.2 409.9 Z" fill="#fff" stroke="none"/>
<path d="M1095.8 415.8 L1107.8 420.8" fill="none" stroke="#141414" stroke-width="1.00" />
<path d="M1098.2 409.9 L1110.2 414.9" fill="none" stroke="#141414" stroke-width="1.00" />
<ellipse cx="1109.0" cy="417.9" rx="1.4" ry="3.2" transform="rotate(23.0 1109.0 417.9)" fill="#fff" stroke="#141414" stroke-width="1.00"/>
<ellipse cx="1108.0" cy="417.5" rx="1.2" ry="2.6" transform="rotate(23.0 1108.0 417.5)" fill="#444" stroke="#141414" stroke-width="1.20"/>
<path d="M1107.0 419.9 L1112.5 422.2 L1114.5 417.4 L1109.0 415.1 Z" fill="#444" stroke="none"/>
<path d="M1107.0 419.9 L1112.5 422.2" fill="none" stroke="#141414" stroke-width="1.20" />
<path d="M1109.0 415.1 L1114.5 417.4" fill="none" stroke="#141414" stroke-width="1.20" />
<ellipse cx="1113.5" cy="419.8" rx="1.2" ry="2.6" transform="rotate(23.0 1113.5 419.8)" fill="#444" stroke="#141414" stroke-width="1.20"/>
<ellipse cx="1113.5" cy="419.8" rx="3.0" ry="6.0" transform="rotate(23.0 1113.5 419.8)" fill="#fff" stroke="#141414" stroke-width="1.10"/>
<path d="M1111.2 425.3 L1123.7 430.6 L1128.3 419.6 L1115.8 414.3 Z" fill="#fff" stroke="none"/>
<path d="M1111.2 425.3 L1123.7 430.6" fill="none" stroke="#141414" stroke-width="1.10" />
<path d="M1115.8 414.3 L1128.3 419.6" fill="none" stroke="#141414" stroke-width="1.10" />
<ellipse cx="1126.0" cy="425.1" rx="3.0" ry="6.0" transform="rotate(23.0 1126.0 425.1)" fill="#fff" stroke="#141414" stroke-width="1.10"/>
<ellipse cx="1126.0" cy="425.1" rx="2.1" ry="4.2" transform="rotate(23.0 1126.0 425.1)" fill="#555" stroke="#141414" stroke-width="1.30"/>
<path d="M1124.4 429.0 L1127.9 430.4 L1131.1 422.7 L1127.6 421.2 Z" fill="#555" stroke="none"/>
<path d="M1124.4 429.0 L1127.9 430.4" fill="none" stroke="#141414" stroke-width="1.30" />
<path d="M1127.6 421.2 L1131.1 422.7" fill="none" stroke="#141414" stroke-width="1.30" />
<ellipse cx="1129.5" cy="426.6" rx="2.1" ry="4.2" transform="rotate(23.0 1129.5 426.6)" fill="#666" stroke="#141414" stroke-width="1.30"/>
<ellipse cx="1129.5" cy="426.6" rx="0.8" ry="1.6" transform="rotate(23.0 1129.5 426.6)" fill="#fff" stroke="#141414" stroke-width="1.00"/>
<path d="M1128.9 428.1 L1132.9 429.7 L1134.1 426.8 L1130.1 425.1 Z" fill="#fff" stroke="none"/>
<path d="M1128.9 428.1 L1132.9 429.7" fill="none" stroke="#141414" stroke-width="1.00" />
<path d="M1130.1 425.1 L1134.1 426.8" fill="none" stroke="#141414" stroke-width="1.00" />
<ellipse cx="1133.5" cy="428.3" rx="0.8" ry="1.6" transform="rotate(23.0 1133.5 428.3)" fill="#fff" stroke="#141414" stroke-width="1.00"/>
<circle cx="1118.5" cy="420.4" r="0.8" fill="#111"/>
<ellipse cx="1138.5" cy="430.4" rx="2.2" ry="4.4" transform="rotate(23.0 1138.5 430.4)" fill="#fff" stroke="#141414" stroke-width="1.20"/>
<path d="M1136.8 434.4 L1143.8 437.4 L1147.2 429.3 L1140.2 426.3 Z" fill="#fff" stroke="none"/>
<path d="M1136.8 434.4 L1143.8 437.4" fill="none" stroke="#141414" stroke-width="1.20" />
<path d="M1140.2 426.3 L1147.2 429.3" fill="none" stroke="#141414" stroke-width="1.20" />
<ellipse cx="1145.5" cy="433.4" rx="2.2" ry="4.4" transform="rotate(23.0 1145.5 433.4)" fill="#fff" stroke="#141414" stroke-width="1.20"/>
<path d="M1159.0 416.8 L1162.5 418.4" fill="none" stroke="#0a0a0a" stroke-width="2.60" />
<path d="M1161.0 417.8 L1180.5 426.3" fill="none" stroke="#111" stroke-width="1.90" />
<circle cx="1184.2" cy="427.9" r="1.7" fill="#111"/>
<circle cx="1187.8" cy="429.5" r="1.7" fill="#111"/>
<path d="M1187.8 429.5 L1191.5 431.1" fill="none" stroke="#141414" stroke-width="0.90" />
<path d="M1113.0 435.6 L1116.5 437.2" fill="none" stroke="#0a0a0a" stroke-width="2.60" />
<path d="M1115.0 436.6 L1135.5 445.5" fill="none" stroke="#111" stroke-width="1.90" />
<circle cx="1139.2" cy="447.1" r="1.7" fill="#111"/>
<circle cx="1142.8" cy="448.7" r="1.7" fill="#111"/>
<path d="M1142.8 448.7 L1146.5 450.3" fill="none" stroke="#141414" stroke-width="0.90" />
<path d="M1169.7 428.3 Q1158 434 1154.8 443.5 L1156.5 446.2" fill="none" stroke="#141414" stroke-width="0.90" />
<g transform="translate(1181.0 447.5)">
<path d="M-1 -9 L18 -5.5 L27 -4.5 L28 7 L20 8.5 L-1 7 Z" fill="#fff" stroke="#111" stroke-width="1.2"/>
<line x1="1" y1="-6.0" x2="19" y2="-3.5" stroke="#111" stroke-width="0.9"/>
<line x1="1" y1="-2.5" x2="19" y2="-0.5" stroke="#111" stroke-width="0.9"/>
<line x1="1" y1="1.0" x2="19" y2="2.5" stroke="#111" stroke-width="0.9"/>
<line x1="1" y1="4.5" x2="19" y2="5.5" stroke="#111" stroke-width="0.9"/>
<path d="M19 -5.5 L20 8.5 M22 -5 L22.5 8" stroke="#111" stroke-width="1" fill="none"/>
<rect x="22.5" y="-1.5" width="4.5" height="5" fill="#333"/>
<path d="M-17 -2 L-12 -8 L-2 -11.5 L7 -13 L6 -7 L3 7 L-4 13 L-6 19 L-11 19 L-18.5 10 L-16 5 Z" fill="#fff" stroke="#111" stroke-width="1.3"/>
<path d="M-16 5 L-9 11 L-6 19 M-12 -8 L-6 -3 M7 -13 L-4 -2 M-9 11 L-4 6" fill="none" stroke="#111" stroke-width="1.1"/>
<path d="M-17 9 L-12.5 16.5 L-8.5 17.5 L-11 12 Z" fill="#bbb" stroke="#111" stroke-width="0.9"/>
<ellipse cx="1" cy="0" rx="4.6" ry="7" transform="rotate(15)" fill="#fff" stroke="#111" stroke-width="1.3"/>
<ellipse cx="-1.2" cy="0.5" rx="4.6" ry="7" transform="rotate(15)" fill="none" stroke="#111" stroke-width="1"/>
</g>
<ellipse cx="1220.2" cy="465.0" rx="4.9" ry="6.3" transform="rotate(23.0 1220.2 465.0)" fill="#fff" stroke="#141414" stroke-width="1.10"/>
<path d="M1217.7 470.8 L1221.1 472.2 L1226.1 460.6 L1222.7 459.2 Z" fill="#fff" stroke="none"/>
<path d="M1217.7 470.8 L1221.1 472.2" fill="none" stroke="#141414" stroke-width="1.10" />
<path d="M1222.7 459.2 L1226.1 460.6" fill="none" stroke="#141414" stroke-width="1.10" />
<ellipse cx="1223.6" cy="466.4" rx="4.9" ry="6.3" transform="rotate(23.0 1223.6 466.4)" fill="#fff" stroke="#141414" stroke-width="1.10"/>
<ellipse cx="1223.8" cy="466.5" rx="2.8" ry="3.7" transform="rotate(20.0 1223.8 466.5)" fill="#888" stroke="#222" stroke-width="1.60"/>
<ellipse cx="1232.0" cy="470.0" rx="0.8" ry="1.9" transform="rotate(23.0 1232.0 470.0)" fill="#222" stroke="#141414" stroke-width="1.00"/>
<path d="M1231.3 471.7 L1239.8 475.3 L1241.2 471.8 L1232.7 468.2 Z" fill="#222" stroke="none"/>
<path d="M1231.3 471.7 L1239.8 475.3" fill="none" stroke="#141414" stroke-width="1.00" />
<path d="M1232.7 468.2 L1241.2 471.8" fill="none" stroke="#141414" stroke-width="1.00" />
<ellipse cx="1240.5" cy="473.6" rx="0.8" ry="1.9" transform="rotate(23.0 1240.5 473.6)" fill="#222" stroke="#141414" stroke-width="1.00"/>
<ellipse cx="1240.0" cy="473.4" rx="0.6" ry="1.5" transform="rotate(23.0 1240.0 473.4)" fill="#fff" stroke="#141414" stroke-width="0.90"/>
<path d="M1239.4 474.8 L1253.4 480.7 L1254.6 477.9 L1240.6 472.0 Z" fill="#fff" stroke="none"/>
<path d="M1239.4 474.8 L1253.4 480.7" fill="none" stroke="#141414" stroke-width="0.90" />
<path d="M1240.6 472.0 L1254.6 477.9" fill="none" stroke="#141414" stroke-width="0.90" />
<ellipse cx="1254.0" cy="479.3" rx="0.6" ry="1.5" transform="rotate(23.0 1254.0 479.3)" fill="#fff" stroke="#141414" stroke-width="0.90"/>
<ellipse cx="1256.0" cy="480.2" rx="4.8" ry="9.6" transform="rotate(23.0 1256.0 480.2)" fill="#fff" stroke="#141414" stroke-width="1.20"/>
<path d="M1252.3 489.0 L1285.3 503.0 L1292.7 485.3 L1259.7 471.3 Z" fill="#fff" stroke="none"/>
<path d="M1252.3 489.0 L1285.3 503.0" fill="none" stroke="#141414" stroke-width="1.20" />
<path d="M1259.7 471.3 L1292.7 485.3" fill="none" stroke="#141414" stroke-width="1.20" />
<ellipse cx="1289.0" cy="494.1" rx="4.8" ry="9.6" transform="rotate(23.0 1289.0 494.1)" fill="#fff" stroke="#141414" stroke-width="1.20"/>
<ellipse cx="1253.0" cy="478.9" rx="4.3" ry="8.6" transform="rotate(23.0 1253.0 478.9)" fill="#222" stroke="#141414" stroke-width="1.00"/>
<path d="M1249.6 486.8 L1258.1 490.4 L1264.9 474.6 L1256.4 471.0 Z" fill="#222" stroke="none"/>
<path d="M1249.6 486.8 L1258.1 490.4" fill="none" stroke="#141414" stroke-width="1.00" />
<path d="M1256.4 471.0 L1264.9 474.6" fill="none" stroke="#141414" stroke-width="1.00" />
<ellipse cx="1261.5" cy="482.5" rx="4.3" ry="8.6" transform="rotate(23.0 1261.5 482.5)" fill="#222" stroke="#141414" stroke-width="1.00"/>
<ellipse cx="1254.5" cy="478.0" rx="1.7" ry="2.2" fill="#fff"/>
<path d="M1259.3 491.8 L1266.7 474.5" fill="none" stroke="#2a2a2a" stroke-width="0.95" />
<path d="M1260.9 492.4 L1268.2 475.1" fill="none" stroke="#2a2a2a" stroke-width="0.95" />
<path d="M1262.4 493.1 L1269.8 475.8" fill="none" stroke="#2a2a2a" stroke-width="0.95" />
<path d="M1264.0 493.7 L1271.3 476.4" fill="none" stroke="#2a2a2a" stroke-width="0.95" />
<path d="M1265.5 494.4 L1272.9 477.1" fill="none" stroke="#2a2a2a" stroke-width="0.95" />
<path d="M1267.1 495.1 L1274.4 477.7" fill="none" stroke="#2a2a2a" stroke-width="0.95" />
<path d="M1268.6 495.7 L1276.0 478.4" fill="none" stroke="#2a2a2a" stroke-width="0.95" />
<path d="M1270.2 496.4 L1277.5 479.1" fill="none" stroke="#2a2a2a" stroke-width="0.95" />
<path d="M1271.7 497.0 L1279.1 479.7" fill="none" stroke="#2a2a2a" stroke-width="0.95" />
<path d="M1273.3 497.7 L1280.6 480.4" fill="none" stroke="#2a2a2a" stroke-width="0.95" />
<path d="M1274.8 498.3 L1282.2 481.0" fill="none" stroke="#2a2a2a" stroke-width="0.95" />
<path d="M1276.4 499.0 L1283.7 481.7" fill="none" stroke="#2a2a2a" stroke-width="0.95" />
<path d="M1277.9 499.6 L1285.3 482.3" fill="none" stroke="#2a2a2a" stroke-width="0.95" />
<path d="M1279.5 500.3 L1286.8 483.0" fill="none" stroke="#2a2a2a" stroke-width="0.95" />
<path d="M1281.0 501.0 L1288.4 483.6" fill="none" stroke="#2a2a2a" stroke-width="0.95" />
<path d="M1264.1 477.6 L1288.1 487.8" fill="none" stroke="#fff" stroke-width="1.00" />
<path d="M1262.6 481.3 L1286.6 491.5" fill="none" stroke="#fff" stroke-width="1.00" />
<path d="M1260.8 485.5 L1284.8 495.6" fill="none" stroke="#fff" stroke-width="1.00" />
<path d="M1259.3 489.1 L1283.3 499.3" fill="none" stroke="#fff" stroke-width="1.00" />
<ellipse cx="1285.0" cy="492.4" rx="3.4" ry="6.8" transform="rotate(23.0 1285.0 492.4)" fill="#1a1a1a" stroke="#141414" stroke-width="1.00"/>
<path d="M1282.3 498.7 L1290.3 502.1 L1295.7 489.6 L1287.7 486.2 Z" fill="#1a1a1a" stroke="none"/>
<path d="M1282.3 498.7 L1290.3 502.1" fill="none" stroke="#141414" stroke-width="1.00" />
<path d="M1287.7 486.2 L1295.7 489.6" fill="none" stroke="#141414" stroke-width="1.00" />
<ellipse cx="1293.0" cy="495.8" rx="3.4" ry="6.8" transform="rotate(23.0 1293.0 495.8)" fill="#1a1a1a" stroke="#141414" stroke-width="1.00"/>
<ellipse cx="1293.0" cy="495.8" rx="0.7" ry="1.7" transform="rotate(23.0 1293.0 495.8)" fill="#fff" stroke="#141414" stroke-width="0.90"/>
<path d="M1292.3 497.4 L1303.3 502.0 L1304.7 498.9 L1293.7 494.3 Z" fill="#fff" stroke="none"/>
<path d="M1292.3 497.4 L1303.3 502.0" fill="none" stroke="#141414" stroke-width="0.90" />
<path d="M1293.7 494.3 L1304.7 498.9" fill="none" stroke="#141414" stroke-width="0.90" />
<ellipse cx="1304.0" cy="500.5" rx="0.7" ry="1.7" transform="rotate(23.0 1304.0 500.5)" fill="#fff" stroke="#141414" stroke-width="0.90"/>
<ellipse cx="1303.0" cy="500.1" rx="0.8" ry="2.0" transform="rotate(23.0 1303.0 500.1)" fill="#222" stroke="#141414" stroke-width="1.00"/>
<path d="M1302.2 501.9 L1313.7 506.8 L1315.3 503.1 L1303.8 498.2 Z" fill="#222" stroke="none"/>
<path d="M1302.2 501.9 L1313.7 506.8" fill="none" stroke="#141414" stroke-width="1.00" />
<path d="M1303.8 498.2 L1315.3 503.1" fill="none" stroke="#141414" stroke-width="1.00" />
<ellipse cx="1314.5" cy="504.9" rx="0.8" ry="2.0" transform="rotate(23.0 1314.5 504.9)" fill="#222" stroke="#141414" stroke-width="1.00"/>
<path d="M1366 509 Q1381 515 1396 506.5" fill="none" stroke="#0a0a0a" stroke-width="1.20" />
<path d="M1366 514 Q1380 520 1396 523" fill="none" stroke="#0a0a0a" stroke-width="1.20" />
<path d="M1350 537 Q1349 542 1344 548" fill="none" stroke="#0a0a0a" stroke-width="1.50" />
<path d="M1357 537 Q1356 544 1351 550" fill="none" stroke="#0a0a0a" stroke-width="1.50" />
<clipPath id="stc"><path d="M1322.4 529.5 L1345.9 539.5 A15.3 19.6 23.0 0 0 1361.1 503.4 L1337.6 493.4 Z"/></clipPath>
<path d="M1322.4 529.5 L1345.9 539.5 A15.3 19.6 23.0 0 0 1361.1 503.4 L1337.6 493.4 Z" fill="#fff" stroke="#111" stroke-width="1.2"/>
<g clip-path="url(#stc)">
<path d="M1341.6 495.1 A15.3 19.6 23.0 0 1 1326.4 531.2" fill="none" stroke="#222" stroke-width="0.95"/>
<path d="M1343.2 495.8 A15.3 19.6 23.0 0 1 1327.9 531.9" fill="none" stroke="#222" stroke-width="0.95"/>
<path d="M1344.7 496.4 A15.3 19.6 23.0 0 1 1329.5 532.5" fill="none" stroke="#222" stroke-width="0.95"/>
<path d="M1346.3 497.1 A15.3 19.6 23.0 0 1 1331.0 533.2" fill="none" stroke="#222" stroke-width="0.95"/>
<path d="M1347.8 497.8 A15.3 19.6 23.0 0 1 1332.6 533.9" fill="none" stroke="#222" stroke-width="0.95"/>
<path d="M1349.4 498.4 A15.3 19.6 23.0 0 1 1334.1 534.5" fill="none" stroke="#222" stroke-width="0.95"/>
<path d="M1350.9 499.1 A15.3 19.6 23.0 0 1 1335.7 535.2" fill="none" stroke="#222" stroke-width="0.95"/>
<path d="M1352.5 499.7 A15.3 19.6 23.0 0 1 1337.2 535.8" fill="none" stroke="#222" stroke-width="0.95"/>
<path d="M1354.0 500.4 A15.3 19.6 23.0 0 1 1338.8 536.5" fill="none" stroke="#222" stroke-width="0.95"/>
<path d="M1355.6 501.0 A15.3 19.6 23.0 0 1 1340.3 537.1" fill="none" stroke="#222" stroke-width="0.95"/>
<path d="M1357.1 501.7 A15.3 19.6 23.0 0 1 1341.9 537.8" fill="none" stroke="#222" stroke-width="0.95"/>
<path d="M1358.7 502.4 A15.3 19.6 23.0 0 1 1343.4 538.5" fill="none" stroke="#222" stroke-width="0.95"/>
<path d="M1360.2 503.0 A15.3 19.6 23.0 0 1 1345.0 539.1" fill="none" stroke="#222" stroke-width="0.95"/>
<path d="M1361.8 503.7 A15.3 19.6 23.0 0 1 1346.5 539.8" fill="none" stroke="#222" stroke-width="0.95"/>
<path d="M1347.1 504.6 L1374.6 516.2" fill="none" stroke="#fff" stroke-width="1.10" />
<path d="M1344.3 511.0 L1371.8 522.7" fill="none" stroke="#fff" stroke-width="1.10" />
<path d="M1341.2 518.4 L1368.7 530.1" fill="none" stroke="#fff" stroke-width="1.10" />
<path d="M1338.1 525.8 L1365.6 537.4" fill="none" stroke="#fff" stroke-width="1.10" />
</g>
<ellipse cx="1330.0" cy="511.5" rx="15.3" ry="19.6" transform="rotate(23.0 1330.0 511.5)" fill="#fff" stroke="#0a0a0a" stroke-width="1.30"/>
<ellipse cx="1331.2" cy="512.0" rx="13.8" ry="17.6" transform="rotate(23.0 1331.2 512.0)" fill="none" stroke="#141414" stroke-width="0.90"/>
<path d="M1320.5 509.5 l7 -9 l9 -1.5 l5 5 l-1 13 l-7 9 l-9 1.5 l-5 -5 Z" fill="#fff" stroke="#111" stroke-width="1.4"/>
<path d="M1322.0 521.5 l6 5 l8 -1 l4 -6" fill="none" stroke="#111" stroke-width="2.4"/>
<path d="M1324.0 501.5 l5 -6 l8 -2" fill="none" stroke="#111" stroke-width="2.2"/>
<ellipse cx="1338.5" cy="501.0" rx="2" ry="2.6" fill="#fff" stroke="#111" stroke-width="0.9"/>
<ellipse cx="1389.8" cy="536.8" rx="4.7" ry="6.0" transform="rotate(23.0 1389.8 536.8)" fill="#fff" stroke="#141414" stroke-width="1.10"/>
<path d="M1387.5 542.3 L1390.9 543.8 L1395.5 532.7 L1392.1 531.3 Z" fill="#fff" stroke="none"/>
<path d="M1387.5 542.3 L1390.9 543.8" fill="none" stroke="#141414" stroke-width="1.10" />
<path d="M1392.1 531.3 L1395.5 532.7" fill="none" stroke="#141414" stroke-width="1.10" />
<ellipse cx="1393.2" cy="538.3" rx="4.7" ry="6.0" transform="rotate(23.0 1393.2 538.3)" fill="#fff" stroke="#141414" stroke-width="1.10"/>
<ellipse cx="1393.4" cy="538.3" rx="2.7" ry="3.5" transform="rotate(20.0 1393.4 538.3)" fill="#888" stroke="#222" stroke-width="1.60"/>
<ellipse cx="1429.0" cy="553.4" rx="13.6" ry="24.2" transform="rotate(21.0 1429.0 553.4)" fill="#fff" stroke="#0a0a0a" stroke-width="1.30"/>
<path d="M1440.2 530.8 L1445.5 534.1 L1451.9 539.9 L1461.3 545.2 L1468.9 547.0 L1470.9 546.0 L1472.7 547.7 L1472.1 554.3 L1469.3 555.8 L1467.4 564.6 L1462.7 571.6 L1454.9 576.5 L1452.2 578.9 L1440.8 575.4 L1436.4 582.4 L1433.9 579.2 L1434.3 575.1 L1420.8 574.2 L1418.5 564.6 Z" fill="#fff" stroke="#0a0a0a" stroke-width="1.30" />
<ellipse cx="1433.2" cy="553.8" rx="13.0" ry="23.0" transform="rotate(21.0 1433.2 553.8)" fill="#fff" stroke="#0a0a0a" stroke-width="1.30"/>
<path d="M1400.0 528.0 L1443.7 546.4" fill="none" stroke="#141414" stroke-width="1.30" />
<path d="M1398.0 540.3 L1445.5 562.5" fill="none" stroke="#141414" stroke-width="1.00" />
<path d="M1400.0 557.4 L1422.6 566.9" fill="none" stroke="#141414" stroke-width="1.30" />
<path d="M1443.7 543.5 L1452.5 548.4 L1451.0 554.3 L1443.7 550.7 Z" fill="none" stroke="#0a0a0a" stroke-width="1.50" />
<path d="M1445.5 535.0 L1448.6 543.5 L1443.7 543.5" fill="none" stroke="#0a0a0a" stroke-width="1.40" />
<path d="M1452.5 548.4 L1461.3 545.2" fill="none" stroke="#0a0a0a" stroke-width="1.30" />
<path d="M1438.8 561.3 L1445.5 557.3 L1451.9 555.2 L1460.1 554.0 L1466.6 555.4" fill="none" stroke="#0a0a0a" stroke-width="1.50" />
<path d="M1451.0 554.3 L1451.9 555.2" fill="none" stroke="#0a0a0a" stroke-width="1.30" />
<path d="M1443.7 550.7 L1440.2 561.1 L1452.5 567.2 L1453.3 575.1" fill="none" stroke="#0a0a0a" stroke-width="1.50" />
<path d="M1445.5 557.3 L1447.2 564.6" fill="none" stroke="#0a0a0a" stroke-width="1.30" />
<path d="M1460.1 554.0 L1453.3 561.3 L1452.5 567.2" fill="none" stroke="#0a0a0a" stroke-width="1.60" />
<path d="M1453.3 561.3 L1456.6 558.7 L1463.7 557.3 L1466.9 559.9" fill="none" stroke="#0a0a0a" stroke-width="1.30" />
<path d="M1451.9 550.7 L1456.6 554.0" fill="none" stroke="#0a0a0a" stroke-width="2.20" />
<path d="M1454.0 555.2 L1452.5 558.7" fill="none" stroke="#0a0a0a" stroke-width="2.00" />
<ellipse cx="1459.2" cy="566.9" rx="5.0" ry="6.2" transform="rotate(21.0 1459.2 566.9)" fill="#fff" stroke="#0a0a0a" stroke-width="1.40"/>
<ellipse cx="1459.5" cy="566.9" rx="2.4" ry="3.1" transform="rotate(21.0 1459.5 566.9)" fill="#777" stroke="#0a0a0a" stroke-width="1.00"/>
<path d="M1421.4 566.3 L1425.5 568.1 L1424.9 573.4 L1421.2 572.2 Z" fill="#444" stroke="#0a0a0a" stroke-width="1.60" />
<path d="M1427.9 568.7 L1433.7 570.4 L1433.2 575.1 L1427.5 573.7 Z" fill="#555" stroke="#0a0a0a" stroke-width="1.60" />
<path d="M1422.6 563.4 L1435.5 568.7 L1436.4 571.6" fill="none" stroke="#0a0a0a" stroke-width="1.40" />
<path d="M1435.7 569.3 L1440.2 567.5 L1451.3 571.6 L1451.9 578.7" fill="none" stroke="#0a0a0a" stroke-width="1.40" />
<path d="M1440.2 567.5 L1440.4 575.1" fill="none" stroke="#0a0a0a" stroke-width="1.30" />
<path d="M1441.4 572.8 L1450.7 575.1" fill="none" stroke="#0a0a0a" stroke-width="2.20" />
<path d="M1442.5 569.9 L1449.6 572.2" fill="none" stroke="#0a0a0a" stroke-width="1.30" />
<path d="M1469.8 547.9 L1469.5 554.7" fill="none" stroke="#0a0a0a" stroke-width="1.10" />
<g transform="translate(1494.0 581.0) rotate(14)">
<path d="M-17 -16.0 L-9 -19.0 L-10.5 -11.5 Z" fill="#fff" stroke="#111" stroke-width="1"/>
<path d="M-17 -10.0 L-9 -13.0 L-10.5 -5.5 Z" fill="#fff" stroke="#111" stroke-width="1"/>
<path d="M-17 -3.5 L-9 -6.5 L-10.5 1.0 Z" fill="#fff" stroke="#111" stroke-width="1"/>
<path d="M-17 3.0 L-9 0.0 L-10.5 7.5 Z" fill="#fff" stroke="#111" stroke-width="1"/>
<path d="M-17 9.5 L-9 6.5 L-10.5 14.0 Z" fill="#fff" stroke="#111" stroke-width="1"/>
<ellipse cx="0" cy="0" rx="13.8" ry="18.6" fill="#fff" stroke="#111" stroke-width="1.2"/>
<path d="M-13.8 0 A13.8 18.6 0 0 1 -3 -18.2 L-6.5 -19.8 A13.8 18.6 0 0 0 -16.5 -2 Z" fill="#fff" stroke="#111" stroke-width="0.9"/>
<ellipse cx="0.5" cy="-1" rx="1" ry="1.3" fill="none" stroke="#111" stroke-width="0.8"/>
</g>
<ellipse cx="1512.6" cy="587.3" rx="1.9" ry="1.9" transform="rotate(0.0 1512.6 587.3)" fill="#777" stroke="#0a0a0a" stroke-width="1.40"/>
<path d="M1511.5 589.0 L1509.5 592.5" fill="none" stroke="#0a0a0a" stroke-width="1.40" />
<g transform="translate(1510.3 516.4) rotate(-27)">
<rect x="-6" y="-2.6" width="12" height="5.2" rx="1" fill="#fff" stroke="#111" stroke-width="1.1"/>
<path d="M-6 -2.6 l2 -2 h12 l-2 2 M6 2.6 l2 -2 v-5.2" fill="none" stroke="#111" stroke-width="0.9"/>
</g>
<path d="M1497.0 526.0 L1484.5 532.5" fill="none" stroke="#141414" stroke-width="1.00" />
<path d="M1486.8 531.2 L1494.8 527.2" fill="none" stroke="#111" stroke-width="2.20" stroke-dasharray="1.4 0.8"/>
<path d="M1489.8 526.2 L1491.8 532.2" fill="none" stroke="#0a0a0a" stroke-width="1.20" />
<g transform="translate(1484.5 532.5) rotate(-27)">
<rect x="-5" y="-2.4" width="9" height="4.8" fill="#fff" stroke="#111" stroke-width="1.1"/>
<path d="M-5 -2.4 l1.5 -1.6 h9 l-1.5 1.6" fill="none" stroke="#111" stroke-width="0.9"/>
</g>
<circle cx="1520.3" cy="504.5" r="1.6" fill="#111"/>
<path d="M1520.3 504.5 L1504.3 519.4" fill="none" stroke="#141414" stroke-width="0.90" />
<path d="M1516.0 513.0 L1520.3 505.0" fill="none" stroke="#141414" stroke-width="0.90" />
<g transform="translate(1386.0 604.0) rotate(-27)">
<rect x="-6" y="-2.6" width="12" height="5.2" rx="1" fill="#fff" stroke="#111" stroke-width="1.1"/>
<path d="M-6 -2.6 l2 -2 h12 l-2 2 M6 2.6 l2 -2 v-5.2" fill="none" stroke="#111" stroke-width="0.9"/>
</g>
<path d="M1398.0 598.0 L1411.5 589.5" fill="none" stroke="#141414" stroke-width="1.00" />
<path d="M1400.8 595.8 L1408.8 591.8" fill="none" stroke="#111" stroke-width="2.20" stroke-dasharray="1.4 0.8"/>
<path d="M1403.8 590.8 L1405.8 596.8" fill="none" stroke="#0a0a0a" stroke-width="1.20" />
<g transform="translate(1411.5 589.5) rotate(-27)">
<rect x="-5" y="-2.4" width="9" height="4.8" fill="#fff" stroke="#111" stroke-width="1.1"/>
<path d="M-5 -2.4 l1.5 -1.6 h9 l-1.5 1.6" fill="none" stroke="#111" stroke-width="0.9"/>
</g>
<circle cx="1368.4" cy="610.3" r="1.6" fill="#111"/>
<path d="M1368.4 610.3 L1380.0 607.0" fill="none" stroke="#141414" stroke-width="0.90" />
<path d="M1416.5 586.5 L1425.5 581.5" fill="none" stroke="#141414" stroke-width="0.90" />
<circle cx="1461.5" cy="537.2" r="1.5" fill="#111"/>
<circle cx="1413.5" cy="577.5" r="1.3" fill="#111"/>
<path d="M1465.0 540.5 L1469.0 542.3" fill="none" stroke="#141414" stroke-width="0.90" stroke-dasharray="1.5 1.5"/>
<g transform="rotate(6.8 1030.0 323.9)">
<text x="1026.1" y="320.9" font-size="10.5" textLength="7.9" lengthAdjust="spacingAndGlyphs" fill="#111" stroke="#111" stroke-width="0.45">25</text>
</g>
<path d="M1022.5 323.0 L1037.5 324.8" fill="none" stroke="#141414" stroke-width="1.30" />
<path d="M1022.5 323.0 L988.8 366.0" fill="none" stroke="#141414" stroke-width="1.30" />
<g transform="rotate(6.4 1049.0 330.9)">
<text x="1043.7" y="327.9" font-size="10.5" textLength="10.6" lengthAdjust="spacingAndGlyphs" fill="#111" stroke="#111" stroke-width="0.45">B11</text>
</g>
<path d="M1041.0 330.0 L1057.0 331.8" fill="none" stroke="#141414" stroke-width="1.30" />
<path d="M1041.0 330.0 L992.5 375.5" fill="none" stroke="#141414" stroke-width="1.30" />
<g transform="rotate(6.8 1068.0 337.9)">
<text x="1062.1" y="334.9" font-size="10.5" textLength="11.7" lengthAdjust="spacingAndGlyphs" fill="#111" stroke="#111" stroke-width="0.45">B12</text>
</g>
<path d="M1061.0 337.0 L1076.0 338.8" fill="none" stroke="#141414" stroke-width="1.30" />
<path d="M1061.0 337.0 L1028.0 368.5" fill="none" stroke="#141414" stroke-width="1.30" />
<g transform="rotate(7.5 1085.5 343.9)">
<text x="1078.8" y="340.9" font-size="10.5" textLength="13.5" lengthAdjust="spacingAndGlyphs" fill="#111" stroke="#111" stroke-width="0.45">(B7)</text>
</g>
<path d="M1078.8 343.0 L1092.5 344.8" fill="none" stroke="#141414" stroke-width="1.30" />
<path d="M1078.8 343.0 L1038.8 373.5" fill="none" stroke="#141414" stroke-width="1.30" />
<g transform="rotate(6.8 1105.0 351.6)">
<text x="1101.1" y="348.6" font-size="10.5" textLength="7.9" lengthAdjust="spacingAndGlyphs" fill="#111" stroke="#111" stroke-width="0.45">26</text>
</g>
<path d="M1097.5 350.7 L1112.5 352.5" fill="none" stroke="#141414" stroke-width="1.30" />
<path d="M1097.5 350.7 L1055.0 385.0" fill="none" stroke="#141414" stroke-width="1.30" />
<g transform="rotate(6.3 1123.0 358.4)">
<text x="1117.1" y="355.4" font-size="10.5" textLength="11.7" lengthAdjust="spacingAndGlyphs" fill="#111" stroke="#111" stroke-width="0.45">B13</text>
</g>
<path d="M1115.0 357.5 L1131.2 359.3" fill="none" stroke="#141414" stroke-width="1.30" />
<path d="M1115.0 357.5 L1071.5 399.5" fill="none" stroke="#141414" stroke-width="1.30" />
<g transform="rotate(6.3 1139.0 365.4)">
<text x="1133.1" y="362.4" font-size="10.5" textLength="11.7" lengthAdjust="spacingAndGlyphs" fill="#111" stroke="#111" stroke-width="0.45">B14</text>
</g>
<path d="M1131.2 364.5 L1147.5 366.3" fill="none" stroke="#141414" stroke-width="1.30" />
<path d="M1131.2 364.5 L1087.5 406.0" fill="none" stroke="#141414" stroke-width="1.30" />
<g transform="rotate(6.8 1160.0 373.9)">
<text x="1156.1" y="370.9" font-size="10.5" textLength="7.9" lengthAdjust="spacingAndGlyphs" fill="#111" stroke="#111" stroke-width="0.45">27</text>
</g>
<path d="M1152.5 373.0 L1167.5 374.8" fill="none" stroke="#141414" stroke-width="1.30" />
<path d="M1152.5 373.0 L1120.0 418.8" fill="none" stroke="#141414" stroke-width="1.30" />
<g transform="rotate(6.3 1180.8 382.1)">
<text x="1174.9" y="379.1" font-size="10.5" textLength="11.7" lengthAdjust="spacingAndGlyphs" fill="#111" stroke="#111" stroke-width="0.45">B15</text>
</g>
<path d="M1172.5 381.2 L1188.8 383.0" fill="none" stroke="#141414" stroke-width="1.30" />
<path d="M1172.5 381.2 L1142.5 430.0" fill="none" stroke="#141414" stroke-width="1.30" />
<g transform="rotate(6.8 1202.0 393.4)">
<text x="1198.1" y="390.4" font-size="10.5" textLength="7.9" lengthAdjust="spacingAndGlyphs" fill="#111" stroke="#111" stroke-width="0.45">28</text>
</g>
<path d="M1195.0 392.5 L1210.0 394.3" fill="none" stroke="#141414" stroke-width="1.30" />
<path d="M1195.0 392.5 L1172.5 435.0" fill="none" stroke="#141414" stroke-width="1.30" />
<g transform="rotate(0.0 1075.5 461.0)">
<text x="1069.6" y="458.0" font-size="10.5" textLength="11.7" lengthAdjust="spacingAndGlyphs" fill="#111" stroke="#111" stroke-width="0.45">B16</text>
</g>
<path d="M1068.8 461.0 L1085.0 461.0" fill="none" stroke="#141414" stroke-width="1.30" />
<path d="M1085.0 461.0 L1120.0 440.0" fill="none" stroke="#141414" stroke-width="1.30" />
<text x="1068.8" y="470.0" font-size="11.2" textLength="12.5" lengthAdjust="spacingAndGlyphs" fill="#111" stroke="#111" stroke-width="0.45">B17</text>
<text x="1067.3" y="479.5" font-size="11.2" textLength="12.5" lengthAdjust="spacingAndGlyphs" fill="#111" stroke="#111" stroke-width="0.45">B18</text>
<path d="M1067.5 461.3 L1066.0 471.3 L1085.0 471.3 L1085.5 461.3" fill="none" stroke="#141414" stroke-width="1.30" />
<path d="M1066.0 471.3 L1065.0 480.8 L1083.0 480.8 L1084.0 471.3" fill="none" stroke="#141414" stroke-width="1.30" />
<g transform="rotate(5.2 1196.5 509.8)">
<text x="1190.6" y="506.8" font-size="10.5" textLength="11.7" lengthAdjust="spacingAndGlyphs" fill="#111" stroke="#111" stroke-width="0.45">B19</text>
</g>
<path d="M1188.0 509.0 L1204.5 510.5" fill="none" stroke="#141414" stroke-width="1.30" />
<path d="M1204.5 510.5 L1220.5 473.0" fill="none" stroke="#141414" stroke-width="1.30" />
<g transform="rotate(5.2 1230.0 526.2)">
<text x="1226.1" y="523.2" font-size="10.5" textLength="7.9" lengthAdjust="spacingAndGlyphs" fill="#111" stroke="#111" stroke-width="0.45">29</text>
</g>
<path d="M1222.5 525.5 L1239.0 527.0" fill="none" stroke="#141414" stroke-width="1.30" />
<path d="M1239.0 527.0 L1268.0 499.0" fill="none" stroke="#141414" stroke-width="1.30" />
<g transform="rotate(6.4 1276.5 545.9)">
<text x="1272.6" y="542.9" font-size="10.5" textLength="7.9" lengthAdjust="spacingAndGlyphs" fill="#111" stroke="#111" stroke-width="0.45">30</text>
</g>
<path d="M1269.5 545.0 L1285.5 546.8" fill="none" stroke="#141414" stroke-width="1.30" />
<path d="M1285.5 546.8 L1322.0 531.0" fill="none" stroke="#141414" stroke-width="1.30" />
<g transform="rotate(4.3 1344.0 575.6)">
<text x="1337.6" y="572.6" font-size="10.5" textLength="12.9" lengthAdjust="spacingAndGlyphs" fill="#111" stroke="#111" stroke-width="0.45">B20</text>
</g>
<path d="M1336.7 575.0 L1352.5 576.2" fill="none" stroke="#141414" stroke-width="1.30" />
<path d="M1352.5 576.2 L1389.0 543.0" fill="none" stroke="#141414" stroke-width="1.30" />
<g transform="rotate(3.8 1367.0 588.1)">
<text x="1360.2" y="585.1" font-size="10.5" textLength="13.5" lengthAdjust="spacingAndGlyphs" fill="#111" stroke="#111" stroke-width="0.45">(B2)</text>
</g>
<path d="M1360.0 587.5 L1378.0 588.7" fill="none" stroke="#141414" stroke-width="1.30" />
<path d="M1378.0 588.7 L1412.5 577.5" fill="none" stroke="#141414" stroke-width="1.30" />
<g transform="rotate(5.7 1422.0 615.8)">
<text x="1418.1" y="612.8" font-size="10.5" textLength="7.9" lengthAdjust="spacingAndGlyphs" fill="#111" stroke="#111" stroke-width="0.45">33</text>
</g>
<path d="M1413.0 615.0 L1429.0 616.6" fill="none" stroke="#141414" stroke-width="1.30" />
<path d="M1429.0 616.6 L1452.5 577.5" fill="none" stroke="#141414" stroke-width="1.30" />
<g transform="rotate(4.2 1448.6 621.1)">
<text x="1444.7" y="618.1" font-size="10.5" textLength="7.9" lengthAdjust="spacingAndGlyphs" fill="#111" stroke="#111" stroke-width="0.45">34</text>
</g>
<path d="M1441.0 620.5 L1457.5 621.7" fill="none" stroke="#141414" stroke-width="1.30" />
<path d="M1457.5 621.7 L1488.0 591.0" fill="none" stroke="#141414" stroke-width="1.30" />
<g transform="rotate(4.5 1472.8 631.4)">
<text x="1466.4" y="628.4" font-size="10.5" textLength="12.9" lengthAdjust="spacingAndGlyphs" fill="#111" stroke="#111" stroke-width="0.45">B22</text>
</g>
<path d="M1465.4 630.8 L1480.6 632.0" fill="none" stroke="#141414" stroke-width="1.30" />
<path d="M1480.6 632.0 L1511.0 590.0" fill="none" stroke="#141414" stroke-width="1.30" />
<g transform="rotate(4.7 1457.5 478.6)">
<text x="1451.6" y="475.6" font-size="10.5" textLength="11.7" lengthAdjust="spacingAndGlyphs" fill="#111" stroke="#111" stroke-width="0.45">B21</text>
</g>
<path d="M1449.6 478.0 L1465.4 479.3" fill="none" stroke="#141414" stroke-width="1.30" />
<path d="M1465.4 479.3 L1518.0 503.5" fill="none" stroke="#141414" stroke-width="1.30" />
<g transform="rotate(5.1 1457.0 491.8)">
<text x="1453.6" y="488.8" font-size="10.5" textLength="6.7" lengthAdjust="spacingAndGlyphs" fill="#111" stroke="#111" stroke-width="0.45">31</text>
</g>
<path d="M1448.6 491.0 L1465.4 492.5" fill="none" stroke="#141414" stroke-width="1.30" />
<path d="M1465.4 492.5 L1506.0 515.5" fill="none" stroke="#141414" stroke-width="1.30" />
<g transform="rotate(4.9 1454.5 505.8)">
<text x="1450.6" y="502.8" font-size="10.5" textLength="7.9" lengthAdjust="spacingAndGlyphs" fill="#111" stroke="#111" stroke-width="0.45">32</text>
</g>
<path d="M1446.0 505.2 L1460.0 506.4" fill="none" stroke="#141414" stroke-width="1.30" />
<path d="M1460.0 506.4 L1479.5 532.0" fill="none" stroke="#141414" stroke-width="1.30" />
<g transform="rotate(4.9 1451.0 522.1)">
<text x="1444.2" y="519.1" font-size="10.5" textLength="13.5" lengthAdjust="spacingAndGlyphs" fill="#111" stroke="#111" stroke-width="0.45">(B2)</text>
</g>
<path d="M1444.3 521.5 L1458.4 522.7" fill="none" stroke="#141414" stroke-width="1.30" />
<path d="M1458.4 522.7 L1461.3 535.5" fill="none" stroke="#141414" stroke-width="1.30" />
<path d="M1359.1 276.1 L1362.4 272.4 L1367.0 272.4 L1371.5 276.7 L1380.0 280.6 L1389.1 285.9 L1398.2 289.1 L1404.7 297.6 L1417.8 304.1 L1433.4 311.9 L1446.4 317.1 L1458.0 319.3 L1469.8 318.7 L1484.1 322.6 L1502.3 329.1 L1523.2 338.9 L1536.2 349.3 L1544.0 359.7 L1548.6 372.8 L1549.3 383.2 L1545.4 393.6 L1536.2 397.5 L1525.8 393.6 L1518.0 389.7 L1510.2 388.4 L1506.3 391.0 L1499.7 384.5 L1484.1 372.8 L1468.5 363.3 L1455.0 359.5 L1438.6 355.2 L1423.0 349.0 L1407.3 341.4 L1391.7 333.6 L1378.7 325.8 L1366.9 309.3 L1358.5 298.9 L1355.2 292.4 Z" fill="#fff" stroke="#0a0a0a" stroke-width="2.60" />
<path d="M1361.5 279.5 L1366.0 276.5 L1371.0 280.5 L1379.0 284.2 L1388.0 289.4 L1396.0 292.5 L1402.5 300.5 L1416.5 307.5 L1432.0 315.3 L1445.5 320.6 L1458.0 322.8 L1469.5 322.2 L1483.0 325.8 L1501.0 332.3 L1521.5 342.0 L1533.5 351.7 L1540.8 361.5 L1545.0 373.5 L1545.6 382.5 L1542.5 390.5 L1536.0 393.3 L1527.0 390.0 L1519.0 386.2 L1509.5 384.8 L1506.5 386.5 L1501.5 381.5 L1486.0 369.8 L1470.0 360.0 L1456.0 356.0 L1440.0 351.8 L1424.5 345.7 L1409.0 338.2 L1393.5 330.4 L1381.0 322.8 L1369.5 307.0 L1361.5 297.0 L1358.8 291.5 Z" fill="none" stroke="#0a0a0a" stroke-width="1.20" />
<path d="M1390.3 312.9 C1391.5 311.9 1394.1 310.4 1397.5 310.9 C1400.8 311.3 1405.2 313.3 1410.4 315.8 C1415.7 318.3 1423.5 322.6 1429.0 325.9 C1434.5 329.3 1440.0 333.3 1443.3 335.9 C1446.7 338.6 1448.3 339.8 1449.0 341.7 C1449.8 343.6 1448.8 346.2 1447.6 347.4 C1446.4 348.6 1445.0 349.3 1441.9 348.8 C1438.8 348.3 1434.0 346.7 1429.0 344.5 C1424.0 342.4 1417.1 339.0 1411.9 335.9 C1406.6 332.8 1401.0 329.0 1397.5 325.9 C1393.9 322.8 1391.5 319.4 1390.3 317.2 C1389.1 315.1 1389.1 314.0 1390.3 312.9 Z" fill="none" stroke="#0a0a0a" stroke-width="1.40" />
<path d="M1393.0 314.5 C1394.1 313.5 1396.5 312.2 1399.5 312.6 C1402.5 313.0 1406.5 314.8 1411.3 317.1 C1416.1 319.4 1423.2 323.2 1428.2 326.3 C1433.2 329.4 1438.2 333.0 1441.2 335.4 C1444.2 337.8 1445.8 338.9 1446.4 340.6 C1447.1 342.3 1446.2 344.7 1445.1 345.8 C1444.0 346.9 1442.7 347.5 1439.9 347.1 C1437.1 346.7 1432.8 345.1 1428.2 343.2 C1423.7 341.2 1417.4 338.2 1412.6 335.4 C1407.8 332.6 1402.8 329.1 1399.5 326.3 C1396.2 323.5 1394.1 320.4 1393.0 318.4 C1391.9 316.4 1391.9 315.5 1393.0 314.5 Z" fill="#fff" stroke="#0a0a0a" stroke-width="1.80" />
<path d="M1405 301 L1403 306 L1417 313 L1432 320.5 L1445 326 L1459 329 L1459.5 323 M1417 308 L1417 313 M1424 311.5 L1423 316 M1432 315.5 L1432 320.5 M1439 318.5 L1438 323 M1446 321 L1445 326 M1452 322.5 L1451.5 327.5" fill="none" stroke="#0a0a0a" stroke-width="1.30" />
<path d="M1403 306 L1398 311 M1409 309 L1406 313.5" fill="none" stroke="#0a0a0a" stroke-width="1.20" />
<path d="M1362 283 L1370 287 L1377 284 L1386 290 L1384 297 L1393 302 L1401 301 M1370 287 L1367 295 L1374 300 L1384 297 M1367 295 L1362 299 M1374 300 L1372 308 L1380 312 L1389 309 L1393 302 M1380 312 L1378 319 L1386 325 L1392 320 L1389 309 M1372 308 L1367 306 M1386 325 L1390 329 M1392 320 L1396 324" fill="none" stroke="#0a0a0a" stroke-width="1.50" />
<path d="M1363 279 L1368 281 M1365 290 L1370 293 M1376 291 L1382 294 M1377 303 L1382 306 M1383 315 L1388 317 M1388 294 L1394 298 M1370 301 L1369 305" fill="none" stroke="#0a0a0a" stroke-width="2.60" />
<path d="M1360 277.5 Q1363 274.5 1367 276.5" fill="none" stroke="#0a0a0a" stroke-width="2.20" />
<path d="M1383 321 L1396 329 L1411 336.5 L1427 344 L1441 349 M1396 329 L1395 332.5 M1411 336.5 L1410 340 M1427 344 L1426 347.5" fill="none" stroke="#0a0a0a" stroke-width="1.10" />
<path d="M1446 340.5 L1452 334 L1463 331.5 L1474 335.5 L1479 343 L1474 352 L1464 356 L1453 353 L1445 346" fill="none" stroke="#0a0a0a" stroke-width="1.50" />
<path d="M1455 340 L1462 336.5 L1470 340 L1468 347 L1460 349.5 L1454 346 Z" fill="#fff" stroke="#0a0a0a" stroke-width="1.60" />
<path d="M1459 342 L1463.5 340.5 L1466 343.5 L1462 345.5 Z" fill="none" stroke="#0a0a0a" stroke-width="1.20" />
<path d="M1452 334 L1450 327.5 M1463 331.5 L1463 325 M1474 335.5 L1477 328 M1479 343 L1486 341 M1474 352 L1478 358 M1464 356 L1465 361 M1453 353 L1451 357" fill="none" stroke="#0a0a0a" stroke-width="1.30" />
<path d="M1441 336 L1447 332 M1444 350 L1449 355" fill="none" stroke="#0a0a0a" stroke-width="1.30" />
<path d="M1479.5 332.5 L1483.7 343.5" fill="none" stroke="#111" stroke-width="2.00" />
<path d="M1483.1 334.1 L1487.3 345.1" fill="none" stroke="#111" stroke-width="2.00" />
<path d="M1486.7 335.7 L1490.9 346.7" fill="none" stroke="#111" stroke-width="2.00" />
<path d="M1490.3 337.3 L1494.5 348.3" fill="none" stroke="#111" stroke-width="2.00" />
<path d="M1493.9 338.9 L1498.1 349.9" fill="none" stroke="#111" stroke-width="2.00" />
<path d="M1477 330 L1497 338.5 L1502 352 L1484 346 Z" fill="none" stroke="#0a0a0a" stroke-width="1.00" />
<path d="M1500 339 Q1497 352 1490 360 L1486 366 M1505 341 Q1503 353 1497 362 L1493 368 M1508 342.5 Q1508 354 1503 364 L1499 371" fill="none" stroke="#0a0a0a" stroke-width="1.40" />
<path d="M1508 342.5 L1523 349 L1530 357 L1524 371 L1503 364 M1512 348 L1521 352 L1524.5 358 L1521 367 L1507 362.5" fill="none" stroke="#0a0a0a" stroke-width="1.30" />
<path d="M1486 366 L1497 374.5 L1512 379.5 L1524 371 M1497 374.5 L1495 380 M1512 379.5 L1511 386 M1489 369.5 L1499 377" fill="none" stroke="#0a0a0a" stroke-width="1.40" />
<path d="M1488 372 L1492 375 M1494 377 L1499 380.5 M1501 381 L1507 384" fill="none" stroke="#0a0a0a" stroke-width="2.60" />
<path d="M1530 357 L1537 360 L1541 371 L1538 384 L1528 381 L1524 371 M1537 360 L1532 372 L1528 381 M1533 352 L1537 360" fill="none" stroke="#0a0a0a" stroke-width="1.40" />
<path d="M1514 381 L1512 387 L1524 391 L1537 394 L1543 388 M1518 384 L1528 387 L1538 389.5" fill="none" stroke="#0a0a0a" stroke-width="1.30" />
<path d="M1516.0 388.5 L1518.5 384.0" fill="none" stroke="#111" stroke-width="1.60" />
<path d="M1520.0 389.6 L1522.5 385.1" fill="none" stroke="#111" stroke-width="1.60" />
<path d="M1524.0 390.7 L1526.5 386.2" fill="none" stroke="#111" stroke-width="1.60" />
<path d="M1528.0 391.8 L1530.5 387.3" fill="none" stroke="#111" stroke-width="1.60" />
<path d="M1532.0 392.9 L1534.5 388.4" fill="none" stroke="#111" stroke-width="1.60" />
<path d="M1536.0 394.0 L1538.5 389.5" fill="none" stroke="#111" stroke-width="1.60" />
<path d="M1540 362 L1545 368 M1541.5 375 L1546 378 M1541 384 L1545.5 386" fill="none" stroke="#0a0a0a" stroke-width="1.60" />
<path d="M1471.0 320.5 L1484.0 324.2 L1502.0 330.7 L1522.5 340.5 L1535.0 350.5 L1542.3 360.5" fill="none" stroke="#0a0a0a" stroke-width="1.60" />
<path d="M1434.5 289.4 L1440.0 292.0 L1444.5 284.8 L1449.0 280.3" fill="none" stroke="#141414" stroke-width="1.10" />
<path d="M1449.0 280.3 C1451.8 281.7 1458.5 285.3 1465.5 288.5 C1472.5 291.7 1485.8 297.3 1491.0 299.4 C1496.2 301.5 1496.0 300.2 1496.6 301.3 C1497.2 302.4 1495.9 305.2 1494.7 305.8 C1493.5 306.4 1490.2 305.0 1489.3 304.9" fill="none" stroke="#141414" stroke-width="1.10" />
<path d="M1489.3 304.9 C1485.3 303.2 1471.6 297.0 1465.5 294.9 C1459.4 292.8 1455.7 292.1 1452.7 292.0 C1449.7 291.9 1448.7 293.1 1447.3 294.0 C1445.9 294.9 1445.0 297.0 1444.5 297.6" fill="none" stroke="#141414" stroke-width="1.10" />
<path d="M1444.5 297.6 L1436.3 293.0 L1434.5 289.4" fill="none" stroke="#141414" stroke-width="1.10" />
<path d="M1450 283.5 L1466 291.3 L1490 301.5" fill="none" stroke="#141414" stroke-width="0.90" />
<path d="M1490.5 299.5 L1489.5 304.5 M1493.5 300.5 L1492.5 305.2" fill="none" stroke="#141414" stroke-width="0.90" />
<path d="M1405.5 245.0 L1414.5 248.3" fill="none" stroke="#111" stroke-width="3.00" />
<path d="M1422 236.5 L1425 234.5 L1435.5 240 L1434.5 243.5 L1430 244.5 L1423.5 240.5 Z" fill="#fff" stroke="#141414" stroke-width="1.10" />
<path d="M1424.5 236.5 L1433.5 241.5 M1426 239.5 L1430.5 242.2 L1430 244.5" fill="none" stroke="#0a0a0a" stroke-width="1.00" />
<path d="M1420.5 251 L1422.5 251.5 L1418.5 264.5 L1426.5 267 L1425.8 269.5 L1415 266 L1419 252.5 Z" fill="#fff" stroke="#141414" stroke-width="1.10" />
<path d="M1422.8 250.0 L1423.3 254.0" fill="none" stroke="#0a0a0a" stroke-width="1.60" />
<path d="M1465.2 271.2 L1463.8 279.2" fill="none" stroke="#111" stroke-width="3.00" stroke-dasharray="1.2 0.7"/>
<path d="M1395.5 280.5 L1404.0 275.8" fill="none" stroke="#111" stroke-width="2.40" stroke-dasharray="1.6 0.9"/>
<circle cx="1406.5" cy="274.0" r="2.0" fill="#111"/>
<g transform="translate(1360.4 332.5)">
<path d="M-5.5 -3.5 L1 -6 L7 -3 L6 3.5 L0 6 L-6 2.5 Z" fill="#fff" stroke="#111" stroke-width="1.1"/>
<path d="M-5.5 -3.5 L0.5 -0.5 L7 -3 M0.5 -0.5 L0 6 M-7 -6.5 L-4 -5 M-8.5 -5.5 L-5.5 -3.8" fill="none" stroke="#111" stroke-width="1"/>
<rect x="-9" y="-8" width="3" height="2.4" fill="#fff" stroke="#111" stroke-width="0.8" transform="rotate(25 -7.5 -7)"/>
</g>
<g transform="translate(1421.5 377.2)">
<path d="M-4.5 -4.5 L0 -6.8 L5 -4.8 L5.5 4.5 L1 7 L-4 4.8 Z" fill="#333" stroke="#111" stroke-width="1"/>
<path d="M-4.3 -1.5 L0.8 0.7 L5.3 -1.5 M-4.2 1.6 L0.9 3.8 L5.4 1.6 M0.5 -2.5 L1 7 M-2 -3.5 L-1.6 5.8 M2.8 -3.6 L3.2 5.8" stroke="#ddd" stroke-width="0.6" fill="none"/>
<path d="M-4.5 -4.5 L0.5 -2.4 L5 -4.8" stroke="#ddd" stroke-width="0.7" fill="none"/>
</g>
<path d="M1428.6 393.2 l3.2 -1 l1.6 0.8 l0.3 7.4 l-3.2 1 l-1.7 -0.8 Z" fill="#fff" stroke="#111" stroke-width="1.2"/>
<path d="M1431.7 394.2 l0.2 7 " fill="none" stroke="#111" stroke-width="1.6"/>
<path d="M1444.4 398.4 l3.2 -1 l1.6 0.8 l0.3 7.4 l-3.2 1 l-1.7 -0.8 Z" fill="#fff" stroke="#111" stroke-width="1.2"/>
<path d="M1447.5 399.4 l0.2 7 " fill="none" stroke="#111" stroke-width="1.6"/>
<g transform="translate(1447.5 376.5)">
<path d="M-8 -1.5 L-1.5 -8.5 L7.5 -4.5 L7 1 L1.5 7.5 L-7.5 3.5 Z" fill="#fff" stroke="#111" stroke-width="1.1"/>
<path d="M-8 -1.5 L1 2.5 L7.5 -4.5 M1 2.5 L1.5 7.5" fill="none" stroke="#111" stroke-width="1"/>
<line x1="6.5" y1="-2.5" x2="23.5" y2="3.0" stroke="#111" stroke-width="0.9"/>
<line x1="5.2" y1="-0.6" x2="22.5" y2="4.6" stroke="#111" stroke-width="0.9"/>
<line x1="3.9" y1="1.3" x2="21.5" y2="6.2" stroke="#111" stroke-width="0.9"/>
<line x1="2.6" y1="3.2" x2="20.5" y2="7.8" stroke="#111" stroke-width="0.9"/>
</g>
<path d="M1469.0 419.5 L1474.5 416.0" fill="none" stroke="#111" stroke-width="2.20" />
<path d="M1472.0 426.3 L1477.5 423.0" fill="none" stroke="#111" stroke-width="2.20" />
<path d="M1475.0 415.7 L1478.5 413.5" fill="none" stroke="#141414" stroke-width="0.90" />
<path d="M1478.0 422.7 L1481.5 420.5" fill="none" stroke="#141414" stroke-width="0.90" />
<g transform="translate(1483.3 416.5)">
<path d="M-3.2 -5.5 Q0 -8 2.6 -5 L4.5 0.5 L4.8 5.5 L1.5 7 L-1 3.5 L-3.5 -1.5 Z" fill="#fff" stroke="#111" stroke-width="1.2"/>
<ellipse cx="0.2" cy="-2.5" rx="1.6" ry="2.2" fill="#fff" stroke="#111" stroke-width="1"/>
<path d="M-1 3.5 L2 2.2 L4.5 0.5 M2 2.2 L1.5 7" fill="none" stroke="#111" stroke-width="0.9"/>
</g>
<path d="M1480.5 396.0 L1497.5 402.5" fill="none" stroke="#141414" stroke-width="0.90" />
<path d="M1481.5 399.5 L1497.0 404.5" fill="none" stroke="#141414" stroke-width="0.90" />
<path d="M1486.0 396.5 L1497.3 403.5" fill="none" stroke="#141414" stroke-width="0.90" />
<path d="M1497 403.5 L1517 412.5" fill="none" stroke="#141414" stroke-width="4.50" stroke-linecap="butt"/>
<path d="M1497 403.5 L1517 412.5" fill="none" stroke="#fff" stroke-width="2.70" stroke-linecap="butt"/>
<ellipse cx="1497.0" cy="403.5" rx="0.9" ry="1.9" transform="rotate(24.0 1497.0 403.5)" fill="#fff" stroke="#141414" stroke-width="0.90"/>
<ellipse cx="1500.5" cy="405.0" rx="0.9" ry="1.9" transform="rotate(24.0 1500.5 405.0)" fill="none" stroke="#141414" stroke-width="0.90"/>
<path d="M1517 412.5 L1553 428" fill="none" stroke="#141414" stroke-width="3.50" stroke-linecap="butt"/>
<path d="M1517 412.5 L1553 428" fill="none" stroke="#fff" stroke-width="1.70" stroke-linecap="butt"/>
<ellipse cx="1517.0" cy="412.5" rx="1.0" ry="2.0" transform="rotate(24.0 1517.0 412.5)" fill="#fff" stroke="#141414" stroke-width="0.90"/>
<g transform="translate(1566 434.5) rotate(24)">
<path d="M-15 -1.4 L-9 -3 L-3 -5.5 L5 -6.5 Q9 -6 9 0 Q9 6 5 6.5 L-3 5.5 L-9 3 L-15 1.4 Z" fill="#fff" stroke="#111" stroke-width="1.2"/>
<ellipse cx="5.5" cy="0" rx="3.2" ry="6.3" fill="#fff" stroke="#111" stroke-width="1.1"/>
<path d="M-9 -3 L-9 3 M-6.5 -4 L-6.5 4 M-4 -5 L-4 5" stroke="#111" stroke-width="0.9" fill="none"/>
<rect x="7.5" y="-3.3" width="7" height="1.6" fill="#fff" stroke="#111" stroke-width="0.8"/>
<rect x="7.5" y="1.7" width="8.5" height="1.7" fill="#fff" stroke="#111" stroke-width="0.8"/>
<circle cx="16" cy="2.5" r="1" fill="#111"/>
</g>
<path d="M1567 387 L1570.5 385.5 L1569.5 390 L1566.5 396.5 M1565.5 388.5 L1570 389.5" fill="none" stroke="#0a0a0a" stroke-width="1.30" />
<g transform="translate(1582.5 394.5)">
<path d="M-2.8 -5 L2.5 -6 L3.8 -1 L2.5 4.5 L-0.5 7.5 L-2.5 4 L-1.5 0 Z" fill="#fff" stroke="#111" stroke-width="1.3"/>
<path d="M-1.5 0 L2.8 -1.3 M0.2 -5.4 L0.8 -1 M-0.5 7.5 L-1 9.5" fill="none" stroke="#111" stroke-width="1.1"/>
<rect x="-1.8" y="-4.2" width="2.6" height="2.6" fill="#333"/>
</g>
<g transform="rotate(0.0 1428.8 226.0)">
<text x="1422.6" y="223.0" font-size="10.5" textLength="12.4" lengthAdjust="spacingAndGlyphs" fill="#111" stroke="#111" stroke-width="0.45">(46)</text>
</g>
<path d="M1421.0 226.0 L1435.7 226.0" fill="none" stroke="#141414" stroke-width="1.30" />
<path d="M1421.0 226.0 L1411.5 244.5" fill="none" stroke="#141414" stroke-width="1.30" />
<g transform="rotate(4.4 1391.0 235.2)">
<text x="1382.9" y="232.2" font-size="10.5" textLength="16.3" lengthAdjust="spacingAndGlyphs" fill="#111" stroke="#111" stroke-width="0.45">(B12)</text>
</g>
<path d="M1384.0 234.7 L1397.0 235.7" fill="none" stroke="#141414" stroke-width="1.30" />
<g transform="rotate(2.9 1389.0 248.3)">
<text x="1382.2" y="245.3" font-size="10.5" textLength="13.5" lengthAdjust="spacingAndGlyphs" fill="#111" stroke="#111" stroke-width="0.45">(B7)</text>
</g>
<path d="M1381.5 248.0 L1395.5 248.7" fill="none" stroke="#141414" stroke-width="1.30" />
<g transform="rotate(5.7 1386.0 262.8)">
<text x="1379.2" y="259.8" font-size="10.5" textLength="13.5" lengthAdjust="spacingAndGlyphs" fill="#111" stroke="#111" stroke-width="0.45">(B8)</text>
</g>
<path d="M1378.5 262.0 L1393.5 263.5" fill="none" stroke="#141414" stroke-width="1.30" />
<path d="M1397.0 235.7 L1395.5 248.7 L1393.5 263.5 L1405.5 273.5" fill="none" stroke="#141414" stroke-width="1.30" />
<g transform="rotate(7.4 1455.0 244.4)">
<text x="1451.1" y="241.4" font-size="10.5" textLength="7.9" lengthAdjust="spacingAndGlyphs" fill="#111" stroke="#111" stroke-width="0.45">48</text>
</g>
<path d="M1446.6 243.5 L1460.5 245.3" fill="none" stroke="#141414" stroke-width="1.30" />
<path d="M1446.6 243.5 L1434.7 242.3" fill="none" stroke="#141414" stroke-width="1.30" />
<g transform="rotate(8.9 1452.0 261.4)">
<text x="1448.1" y="258.4" font-size="10.5" textLength="7.9" lengthAdjust="spacingAndGlyphs" fill="#111" stroke="#111" stroke-width="0.45">47</text>
</g>
<path d="M1444.5 260.3 L1458.5 262.5" fill="none" stroke="#141414" stroke-width="1.30" />
<path d="M1444.5 260.3 L1426.8 265.4" fill="none" stroke="#141414" stroke-width="1.30" />
<g transform="rotate(9.0 1486.0 267.3)">
<text x="1482.1" y="264.3" font-size="10.5" textLength="7.9" lengthAdjust="spacingAndGlyphs" fill="#111" stroke="#111" stroke-width="0.45">46</text>
</g>
<path d="M1479.3 266.2 L1493.2 268.4" fill="none" stroke="#141414" stroke-width="1.30" />
<path d="M1479.3 266.2 L1466.4 272.3" fill="none" stroke="#141414" stroke-width="1.30" />
<g transform="rotate(7.6 1485.0 281.5)">
<text x="1481.1" y="278.5" font-size="10.5" textLength="7.9" lengthAdjust="spacingAndGlyphs" fill="#111" stroke="#111" stroke-width="0.45">45</text>
</g>
<path d="M1477.0 280.5 L1492.0 282.5" fill="none" stroke="#141414" stroke-width="1.30" />
<path d="M1477.0 280.5 L1466.4 288.0" fill="none" stroke="#141414" stroke-width="1.30" />
<g transform="rotate(8.1 1516.0 313.5)">
<text x="1512.1" y="310.5" font-size="10.5" textLength="7.9" lengthAdjust="spacingAndGlyphs" fill="#111" stroke="#111" stroke-width="0.45">44</text>
</g>
<path d="M1509.0 312.5 L1523.0 314.5" fill="none" stroke="#141414" stroke-width="1.30" />
<path d="M1509.0 312.5 L1493.0 324.8" fill="none" stroke="#141414" stroke-width="1.30" />
<g transform="rotate(8.2 1329.7 365.0)">
<text x="1325.8" y="362.0" font-size="10.5" textLength="7.9" lengthAdjust="spacingAndGlyphs" fill="#111" stroke="#111" stroke-width="0.45">36</text>
</g>
<path d="M1322.8 364.0 L1336.7 366.0" fill="none" stroke="#141414" stroke-width="1.30" />
<path d="M1336.7 366.0 L1359.4 337.6" fill="none" stroke="#141414" stroke-width="1.30" />
<g transform="rotate(4.4 1430.0 365.7)">
<text x="1426.1" y="362.7" font-size="10.5" textLength="7.9" lengthAdjust="spacingAndGlyphs" fill="#111" stroke="#111" stroke-width="0.45">49</text>
</g>
<path d="M1423.8 365.2 L1436.7 366.2" fill="none" stroke="#141414" stroke-width="1.30" />
<path d="M1436.7 366.2 L1447.0 373.5" fill="none" stroke="#141414" stroke-width="1.30" />
<g transform="rotate(6.1 1392.7 400.3)">
<text x="1388.8" y="397.3" font-size="10.5" textLength="7.9" lengthAdjust="spacingAndGlyphs" fill="#111" stroke="#111" stroke-width="0.45">39</text>
</g>
<path d="M1385.0 399.5 L1400.0 401.1" fill="none" stroke="#141414" stroke-width="1.30" />
<path d="M1400.0 401.1 L1418.0 383.0" fill="none" stroke="#141414" stroke-width="1.30" />
<g transform="rotate(5.3 1414.0 413.2)">
<text x="1410.1" y="410.2" font-size="10.5" textLength="7.9" lengthAdjust="spacingAndGlyphs" fill="#111" stroke="#111" stroke-width="0.45">40</text>
</g>
<path d="M1407.0 412.5 L1422.0 413.9" fill="none" stroke="#141414" stroke-width="1.30" />
<path d="M1422.0 413.9 L1429.8 400.5" fill="none" stroke="#141414" stroke-width="1.30" />
<path d="M1422.0 413.9 L1443.8 404.5" fill="none" stroke="#141414" stroke-width="1.30" />
<g transform="rotate(4.4 1450.6 430.6)">
<text x="1444.2" y="427.6" font-size="10.5" textLength="12.9" lengthAdjust="spacingAndGlyphs" fill="#111" stroke="#111" stroke-width="0.45">B24</text>
</g>
<path d="M1442.6 430.0 L1459.5 431.3" fill="none" stroke="#141414" stroke-width="1.30" />
<path d="M1459.5 431.3 L1471.5 418.0" fill="none" stroke="#141414" stroke-width="1.30" />
<path d="M1459.5 431.3 L1474.5 424.5" fill="none" stroke="#141414" stroke-width="1.30" />
<g transform="rotate(4.1 1494.0 448.0)">
<text x="1490.6" y="445.0" font-size="10.5" textLength="6.7" lengthAdjust="spacingAndGlyphs" fill="#111" stroke="#111" stroke-width="0.45">41</text>
</g>
<path d="M1486.3 447.5 L1500.2 448.5" fill="none" stroke="#141414" stroke-width="1.30" />
<path d="M1486.3 447.5 L1483.3 423.5" fill="none" stroke="#141414" stroke-width="1.30" />
<g transform="rotate(4.9 1515.0 462.1)">
<text x="1511.1" y="459.1" font-size="10.5" textLength="7.9" lengthAdjust="spacingAndGlyphs" fill="#111" stroke="#111" stroke-width="0.45">42</text>
</g>
<path d="M1507.5 461.5 L1521.5 462.7" fill="none" stroke="#141414" stroke-width="1.30" />
<path d="M1507.5 461.5 L1503.0 408.0" fill="none" stroke="#141414" stroke-width="1.30" />
<g transform="rotate(4.7 1539.0 472.6)">
<text x="1535.1" y="469.6" font-size="10.5" textLength="7.9" lengthAdjust="spacingAndGlyphs" fill="#111" stroke="#111" stroke-width="0.45">43</text>
</g>
<path d="M1531.5 472.0 L1546.0 473.2" fill="none" stroke="#141414" stroke-width="1.30" />
<path d="M1531.5 472.0 L1534.8 422.8" fill="none" stroke="#141414" stroke-width="1.30" />
<g transform="rotate(4.1 1582.3 373.5)">
<text x="1578.4" y="370.5" font-size="10.5" textLength="7.9" lengthAdjust="spacingAndGlyphs" fill="#111" stroke="#111" stroke-width="0.45">50</text>
</g>
<path d="M1574.4 373.0 L1588.3 374.0" fill="none" stroke="#141414" stroke-width="1.30" />
<path d="M1574.4 373.0 L1568.5 387.0" fill="none" stroke="#141414" stroke-width="1.30" />
<g transform="rotate(8.2 1605.0 376.8)">
<text x="1601.6" y="373.8" font-size="10.5" textLength="6.7" lengthAdjust="spacingAndGlyphs" fill="#111" stroke="#111" stroke-width="0.45">51</text>
</g>
<path d="M1597.2 375.8 L1611.0 377.8" fill="none" stroke="#141414" stroke-width="1.30" />
<path d="M1597.2 375.8 L1585.5 390.0" fill="none" stroke="#141414" stroke-width="1.30" />
<path d="M1129.8 556.3 C1131.8 555.8 1135.7 557.9 1137.4 559.2 C1139.1 560.5 1138.0 562.0 1140.2 563.9 C1142.4 565.8 1147.0 568.9 1150.6 570.5 C1154.2 572.1 1158.8 571.7 1162.0 573.4 C1165.2 575.1 1166.4 578.5 1169.6 580.9 C1172.8 583.2 1174.0 584.5 1180.9 587.5 C1187.8 590.5 1204.0 596.7 1211.2 598.9 C1218.5 601.1 1220.6 600.3 1224.4 600.8 C1228.2 601.3 1227.3 600.0 1233.9 601.7 C1240.5 603.4 1255.3 608.1 1264.1 611.2 C1272.9 614.4 1280.8 617.5 1286.8 620.6 C1292.8 623.8 1296.2 626.3 1300.0 630.1 C1303.8 633.9 1307.6 639.2 1309.5 643.3 C1311.4 647.4 1311.2 650.3 1311.4 654.7 C1311.6 659.1 1312.0 666.5 1310.4 669.8 C1308.8 673.1 1305.8 673.5 1301.9 674.5 C1298.0 675.5 1291.8 676.1 1286.8 675.5 C1281.8 674.9 1276.8 672.7 1271.7 670.8 C1266.7 668.9 1261.5 667.1 1256.5 664.1 C1251.5 661.1 1246.8 655.9 1241.4 652.8 C1236.1 649.6 1230.1 646.8 1224.4 645.2 C1218.7 643.6 1213.4 645.2 1207.4 643.3 C1201.4 641.4 1196.1 637.7 1188.5 633.9 C1180.9 630.1 1168.9 624.4 1162.0 620.6 C1155.1 616.8 1152.0 615.3 1146.9 611.2 C1141.9 607.1 1135.8 600.8 1131.7 596.1 C1127.6 591.4 1124.2 586.6 1122.3 582.8 C1120.4 579.0 1119.9 576.9 1120.4 573.4 C1120.9 569.9 1123.5 564.9 1125.1 562.0 C1126.7 559.1 1127.8 556.8 1129.8 556.3 Z" fill="#fff" stroke="#0a0a0a" stroke-width="1.40" />
<ellipse cx="1130.8" cy="563.0" rx="2.6" ry="2.6" transform="rotate(0.0 1130.8 563.0)" fill="#fff" stroke="#0a0a0a" stroke-width="1.10"/>
<path d="M1124 566 Q1130 571 1137.5 565 M1126 577 L1140 568 M1127.5 581 L1143 571.5" fill="none" stroke="#0a0a0a" stroke-width="1.10" />
<ellipse cx="1138.4" cy="580.9" rx="4.2" ry="4.2" transform="rotate(0.0 1138.4 580.9)" fill="#fff" stroke="#0a0a0a" stroke-width="1.10"/>
<ellipse cx="1138.8" cy="580.9" rx="1.6" ry="1.6" transform="rotate(0.0 1138.8 580.9)" fill="#666" stroke="#0a0a0a" stroke-width="1.20"/>
<ellipse cx="1127.0" cy="582.5" rx="1.2" ry="1.2" transform="rotate(0.0 1127.0 582.5)" fill="#fff" stroke="#0a0a0a" stroke-width="0.90"/>
<ellipse cx="1136.2" cy="571.5" rx="1.2" ry="1.2" transform="rotate(0.0 1136.2 571.5)" fill="#fff" stroke="#0a0a0a" stroke-width="0.90"/>
<ellipse cx="1159.0" cy="580.0" rx="1.3" ry="1.3" transform="rotate(0.0 1159.0 580.0)" fill="#fff" stroke="#0a0a0a" stroke-width="0.90"/>
<path d="M1122.0 584.0 C1123.8 586.3 1128.6 593.2 1133.0 598.0 C1137.4 602.8 1143.5 608.4 1148.5 612.5 C1153.5 616.6 1156.1 618.6 1163.0 622.5 C1169.9 626.4 1182.5 632.2 1190.0 636.0 C1197.5 639.8 1202.3 643.1 1208.0 645.0 C1213.7 646.9 1221.3 647.1 1224.0 647.5" fill="none" stroke="#0a0a0a" stroke-width="1.00" />
<path d="M1143.0 570.0 C1144.0 570.7 1146.2 572.8 1149.0 574.0 C1151.8 575.2 1157.0 575.4 1160.0 577.0 C1163.0 578.6 1167.0 581.0 1167.0 583.5 C1167.0 586.0 1162.5 589.1 1160.0 592.0 C1157.5 594.9 1153.3 599.5 1152.0 601.0" fill="none" stroke="#0a0a0a" stroke-width="1.00" />
<path d="M1169.6 582.8 C1171.6 583.0 1174.6 585.8 1180.9 588.5 C1187.2 591.2 1202.5 596.7 1207.4 598.9 C1212.3 601.1 1210.8 600.4 1210.2 601.7 C1209.6 603.0 1207.2 606.6 1203.6 606.5 C1200.0 606.4 1193.5 602.8 1188.5 600.8 C1183.5 598.8 1176.6 596.4 1173.3 594.2 C1170.0 592.0 1169.2 589.4 1168.6 587.5 C1168.0 585.6 1167.5 582.6 1169.6 582.8 Z" fill="none" stroke="#0a0a0a" stroke-width="1.10" />
<path d="M1154.4 603.6 C1156.0 602.2 1159.5 599.2 1163.9 598.9 C1168.3 598.6 1174.3 599.0 1180.9 601.7 C1187.5 604.4 1198.5 611.2 1203.6 615.0 C1208.6 618.8 1210.6 621.2 1211.2 624.4 C1211.8 627.5 1209.9 632.3 1207.4 633.9 C1204.9 635.5 1201.0 635.5 1196.0 633.9 C1191.0 632.3 1183.1 627.9 1177.1 624.4 C1171.1 620.9 1163.9 615.9 1160.1 613.1 C1156.3 610.3 1155.4 609.0 1154.4 607.4 C1153.5 605.8 1152.8 605.0 1154.4 603.6 Z" fill="none" stroke="#0a0a0a" stroke-width="1.10" />
<path d="M1158.4 605.4 C1159.8 604.2 1162.8 601.6 1166.6 601.4 C1170.4 601.1 1175.5 601.5 1181.2 603.8 C1186.9 606.1 1196.4 612.0 1200.7 615.2 C1205.1 618.5 1206.7 620.6 1207.3 623.3 C1207.8 626.0 1206.2 630.1 1204.0 631.5 C1201.8 632.8 1198.5 632.8 1194.2 631.5 C1189.8 630.1 1183.1 626.3 1177.9 623.3 C1172.8 620.3 1166.6 616.0 1163.3 613.6 C1160.1 611.1 1159.2 610.0 1158.4 608.7 C1157.6 607.3 1157.0 606.6 1158.4 605.4 Z" fill="none" stroke="#0a0a0a" stroke-width="1.00" />
<path d="M1217.0 609.0 C1217.8 608.0 1219.5 604.2 1222.0 603.0 C1224.5 601.8 1228.8 601.2 1232.0 601.5 C1235.2 601.8 1239.5 604.4 1241.0 605.0" fill="none" stroke="#0a0a0a" stroke-width="1.00" />
<path d="M1217.0 609.0 C1216.7 610.8 1215.0 615.8 1215.0 620.0 C1215.0 624.2 1215.8 630.0 1217.0 634.0 C1218.2 638.0 1221.2 642.3 1222.0 644.0" fill="none" stroke="#0a0a0a" stroke-width="1.00" />
<path d="M1221.0 612.0 C1220.8 613.7 1219.4 618.3 1219.5 622.0 C1219.6 625.7 1220.4 630.4 1221.5 634.0 C1222.6 637.6 1225.2 641.9 1226.0 643.5" fill="none" stroke="#0a0a0a" stroke-width="1.00" />
<path d="M1232 601.5 L1236.5 607.5 L1266 617.5 L1289 627 L1298.5 634.5" fill="none" stroke="#0a0a0a" stroke-width="1.00" />
<path d="M1241 605 L1264.5 613.5 L1286 622.5 L1297.5 631" fill="none" stroke="#0a0a0a" stroke-width="0.90" />
<path d="M1236.5 607.5 L1230 613 L1262 624.5 L1284.5 633 L1296.5 640 L1306 641" fill="none" stroke="#0a0a0a" stroke-width="1.00" />
<path d="M1230 613 L1224.5 622 L1226 633 L1232 642 L1243 650 L1258.5 661.5 L1273 668 L1287.5 672" fill="none" stroke="#0a0a0a" stroke-width="1.10" />
<path d="M1226.5 624 L1236 620.5 L1262 630 L1284 638.5 L1297 645.5 L1308.5 647.5" fill="none" stroke="#0a0a0a" stroke-width="1.30" />
<path d="M1229 627.5 L1237 624.5 L1261 633.5 L1283 642 L1296 649 L1309 651" fill="none" stroke="#0a0a0a" stroke-width="0.90" />
<path d="M1226.3 627.5 L1237.3 629.8 L1241.8 649.7 L1230.7 645.3 Z" fill="#1e1e1e" stroke="#0a0a0a" stroke-width="1.00" />
<path d="M1228.5 633.5 L1238 631.5 M1230 637 L1239.3 635.2 M1231.3 640.5 L1240.5 639 M1232.7 643.5 L1241.7 642.7" fill="none" stroke="#999" stroke-width="0.50" />
<path d="M1250 640.5 L1273.6 649 L1272.6 660.4 L1250 652.8 Z" fill="#fff" stroke="#0a0a0a" stroke-width="1.30" />
<rect x="1279.5" y="652.6" width="5.5" height="3.8" fill="#2a2a2a" transform="skewY(20)" transform-origin="1279.5 652.6"/>
<rect x="1279.5" y="657.6" width="5.5" height="3.8" fill="#2a2a2a" transform="skewY(20)" transform-origin="1279.5 657.6"/>
<rect x="1279.5" y="662.6" width="5.5" height="3.8" fill="#2a2a2a" transform="skewY(20)" transform-origin="1279.5 662.6"/>
<path d="M1277.5 649.5 L1287 653 L1286.5 668.5 L1277.5 665 Z" fill="none" stroke="#0a0a0a" stroke-width="0.90" />
<path d="M1296 652 L1309 658 M1288 654.5 L1300.5 648.5 M1305 659 L1306.5 668 L1310 670.5" fill="none" stroke="#0a0a0a" stroke-width="1.00" />
<path d="M1243 655.5 L1258 666 L1273 672 L1288 675.3" fill="none" stroke="#0a0a0a" stroke-width="0.90" />
<path d="M1102.4 592.3 L1121.3 581.0" fill="none" stroke="#141414" stroke-width="1.00" />
<path d="M1091.0 605.5 L1137.4 581.0" fill="none" stroke="#141414" stroke-width="1.00" />
<path d="M1122.3 605.1 L1158.2 581.0" fill="none" stroke="#141414" stroke-width="1.00" />
<path d="M1171.4 640.5 L1205.5 618.8" fill="none" stroke="#141414" stroke-width="1.00" />
<path d="M1180.0 641.4 L1209.0 622.0" fill="none" stroke="#141414" stroke-width="1.00" />
<path d="M1181.8 657.5 L1226.3 610.2" fill="none" stroke="#141414" stroke-width="1.00" />
<path d="M1216.8 653.2 L1226.0 647.0" fill="none" stroke="#141414" stroke-width="1.00" />
<path d="M1238.6 670.8 L1264.1 622.5" fill="none" stroke="#141414" stroke-width="1.00" />
<path d="M1253.7 678.3 L1301.9 647.1" fill="none" stroke="#141414" stroke-width="1.00" />
<path d="M1279.2 684.9 L1290.0 677.5" fill="none" stroke="#141414" stroke-width="1.00" />
<circle cx="1102.4" cy="592.3" r="2.1" fill="#111"/>
<path d="M1102.4 592.3 L1108.7 588.2" fill="none" stroke="#111" stroke-width="2.30" stroke-dasharray="1.3 0.8"/>
<circle cx="1091.0" cy="605.5" r="2.1" fill="#111"/>
<path d="M1091.0 605.5 L1097.3 601.4" fill="none" stroke="#111" stroke-width="2.30" stroke-dasharray="1.3 0.8"/>
<circle cx="1122.3" cy="605.1" r="2.1" fill="#111"/>
<path d="M1122.3 605.1 L1128.6 601.0" fill="none" stroke="#111" stroke-width="2.30" stroke-dasharray="1.3 0.8"/>
<circle cx="1138.4" cy="636.7" r="2.1" fill="#111"/>
<path d="M1138.4 636.7 L1144.7 632.6" fill="none" stroke="#111" stroke-width="2.30" stroke-dasharray="1.3 0.8"/>
<circle cx="1171.4" cy="640.5" r="2.1" fill="#111"/>
<path d="M1171.4 640.5 L1177.7 636.4" fill="none" stroke="#111" stroke-width="2.30" stroke-dasharray="1.3 0.8"/>
<circle cx="1180.0" cy="641.4" r="2.1" fill="#111"/>
<path d="M1180.0 641.4 L1186.3 637.3" fill="none" stroke="#111" stroke-width="2.30" stroke-dasharray="1.3 0.8"/>
<circle cx="1181.8" cy="657.5" r="2.1" fill="#111"/>
<path d="M1181.8 657.5 L1188.1 653.4" fill="none" stroke="#111" stroke-width="2.30" stroke-dasharray="1.3 0.8"/>
<circle cx="1216.8" cy="653.2" r="2.1" fill="#111"/>
<path d="M1216.8 653.2 L1223.1 649.1" fill="none" stroke="#111" stroke-width="2.30" stroke-dasharray="1.3 0.8"/>
<circle cx="1238.6" cy="670.8" r="2.1" fill="#111"/>
<path d="M1238.6 670.8 L1244.9 666.7" fill="none" stroke="#111" stroke-width="2.30" stroke-dasharray="1.3 0.8"/>
<circle cx="1253.7" cy="678.3" r="2.1" fill="#111"/>
<path d="M1253.7 678.3 L1260.0 674.2" fill="none" stroke="#111" stroke-width="2.30" stroke-dasharray="1.3 0.8"/>
<circle cx="1279.2" cy="684.9" r="2.1" fill="#111"/>
<path d="M1279.2 684.9 L1285.5 680.8" fill="none" stroke="#111" stroke-width="2.30" stroke-dasharray="1.3 0.8"/>
<circle cx="1104.3" cy="604.6" r="2.1" fill="#111"/>
<path d="M1104.3 604.6 L1108.1 602.1" fill="none" stroke="#111" stroke-width="2.30" stroke-dasharray="1.3 0.8"/>
<circle cx="1111.9" cy="599.8" r="1.4" fill="#111"/>
<circle cx="1115.7" cy="597.5" r="1.4" fill="#111"/>
<path d="M1277.9 580.3 l3 -1 l1.8 0.9 l0.2 8.6 l-3 1 l-1.8 -0.9 Z" fill="#2a2a2a" stroke="#111" stroke-width="1"/>
<path d="M1296.0 586.8 l3 -1 l1.8 0.9 l0.2 8.6 l-3 1 l-1.8 -0.9 Z" fill="#2a2a2a" stroke="#111" stroke-width="1"/>
<path d="M1115.7 598.5 C1113.0 600.3 1103.2 605.6 1099.6 609.3 C1096.0 613.0 1095.8 613.6 1093.9 620.6 C1092.0 627.6 1089.2 645.9 1088.2 651.0" fill="none" stroke="#141414" stroke-width="1.30" />
<g transform="rotate(3.8 1083.8 624.5)">
<text x="1075.7" y="621.5" font-size="10.5" textLength="16.3" lengthAdjust="spacingAndGlyphs" fill="#111" stroke="#111" stroke-width="0.45">(B12)</text>
</g>
<path d="M1076.0 624.0 L1091.0 625.0" fill="none" stroke="#141414" stroke-width="1.30" />
<g transform="rotate(3.7 1082.0 637.5)">
<text x="1075.2" y="634.5" font-size="10.5" textLength="13.5" lengthAdjust="spacingAndGlyphs" fill="#111" stroke="#111" stroke-width="0.45">(B7)</text>
</g>
<path d="M1074.0 637.0 L1089.5 638.0" fill="none" stroke="#141414" stroke-width="1.30" />
<g transform="rotate(5.5 1079.8 651.0)">
<text x="1073.0" y="648.0" font-size="10.5" textLength="13.5" lengthAdjust="spacingAndGlyphs" fill="#111" stroke="#111" stroke-width="0.45">(B8)</text>
</g>
<path d="M1072.0 650.3 L1087.5 651.8" fill="none" stroke="#141414" stroke-width="1.30" />
<g transform="rotate(8.2 1109.5 650.0)">
<text x="1103.1" y="647.0" font-size="10.5" textLength="12.9" lengthAdjust="spacingAndGlyphs" fill="#111" stroke="#111" stroke-width="0.45">B23</text>
</g>
<path d="M1101.6 649.0 L1115.5 651.0" fill="none" stroke="#141414" stroke-width="1.30" />
<path d="M1115.5 651.0 L1138.4 636.7" fill="none" stroke="#141414" stroke-width="1.30" />
<path d="M1138.4 636.7 L1161.0 621.0" fill="none" stroke="#141414" stroke-width="0.90" />
<g transform="rotate(5.4 1340.0 679.8)">
<text x="1336.1" y="676.8" font-size="10.5" textLength="7.9" lengthAdjust="spacingAndGlyphs" fill="#111" stroke="#111" stroke-width="0.45">35</text>
</g>
<path d="M1332.7 679.0 L1349.5 680.6" fill="none" stroke="#141414" stroke-width="1.30" />
<path d="M1332.7 679.0 L1294.4 657.5" fill="none" stroke="#141414" stroke-width="1.30" />
</g></svg></body></html>
